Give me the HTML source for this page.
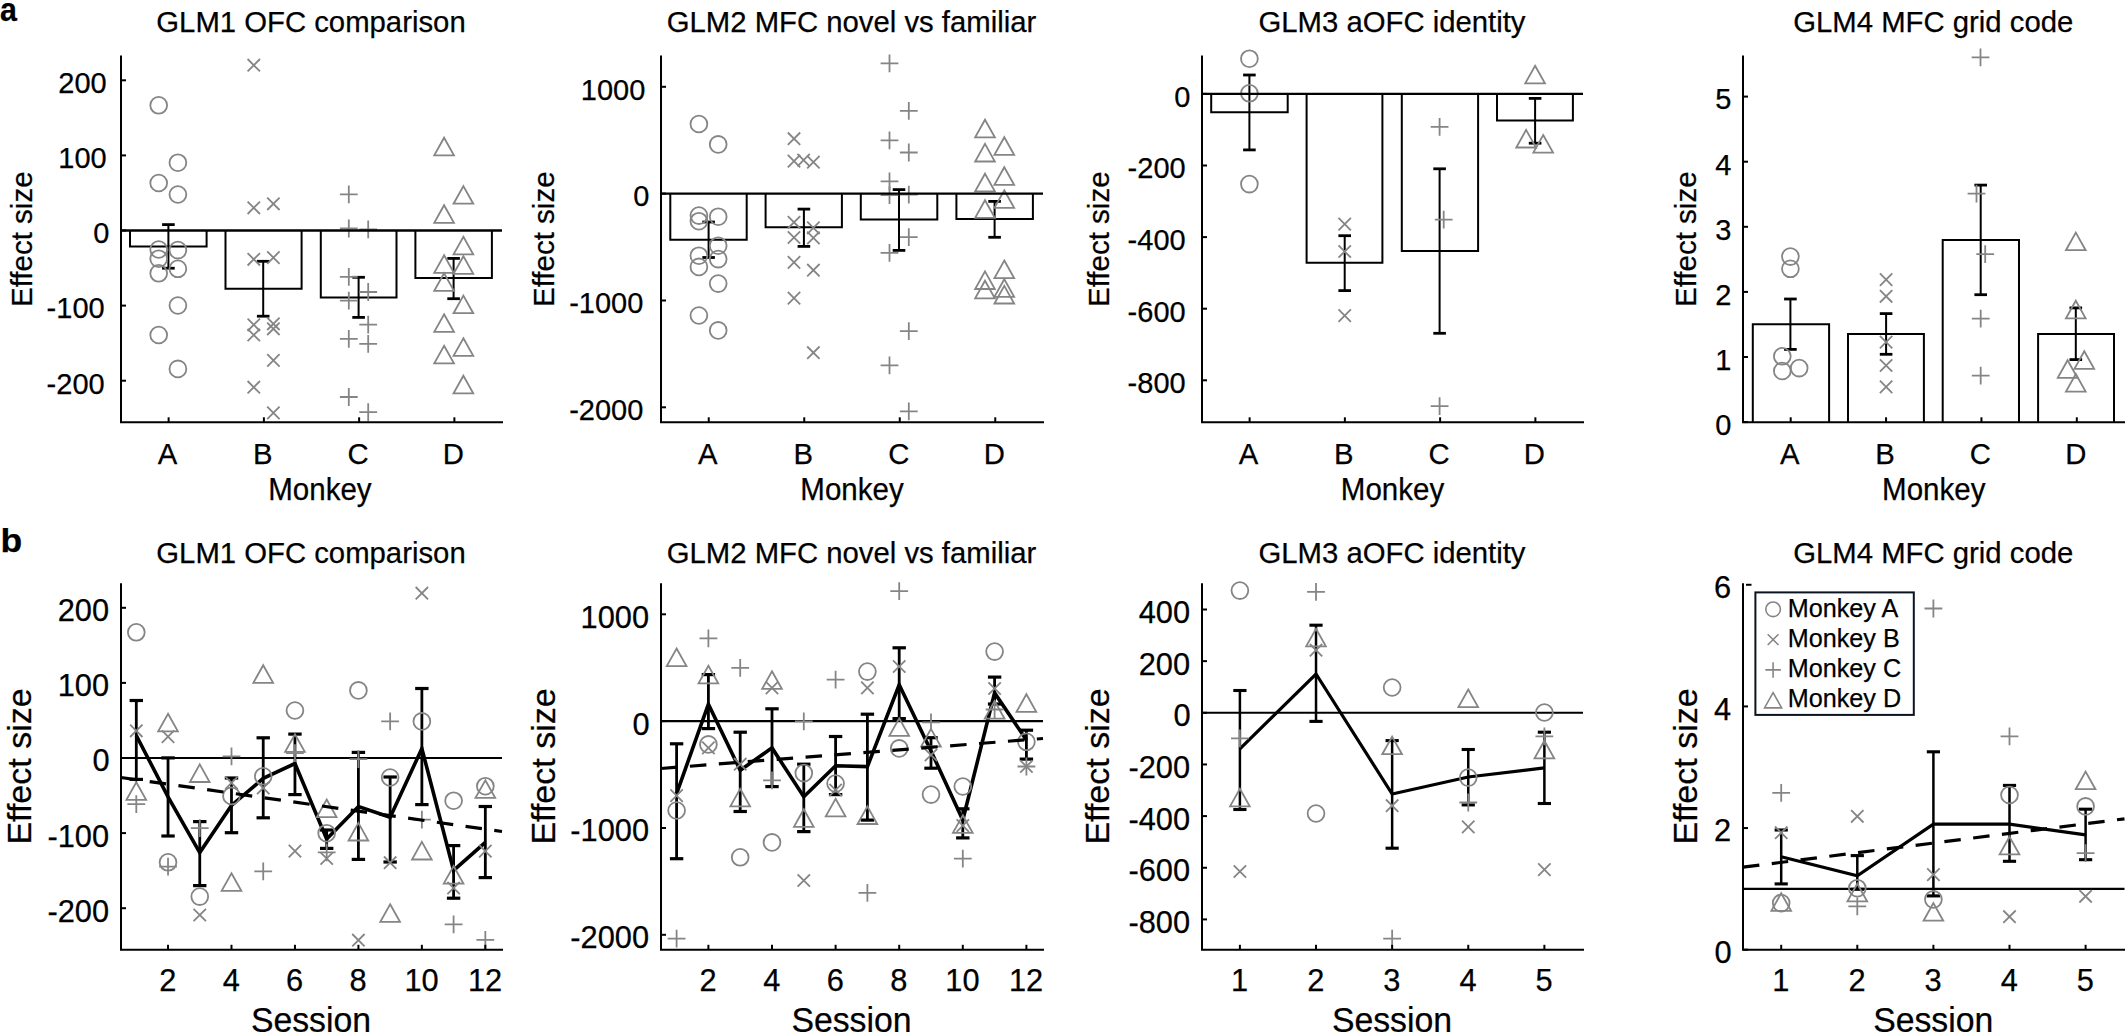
<!DOCTYPE html>
<html><head><meta charset="utf-8"><title>Figure</title><style>html,body{margin:0;padding:0;background:#fff;}svg text{font-family:'Liberation Sans', Arial, Helvetica, sans-serif;}</style></head><body>
<svg width="2125" height="1032" viewBox="0 0 2125 1032" style="display:block;font-family:'Liberation Sans', Arial, Helvetica, sans-serif">
<rect width="2125" height="1032" fill="#fff"/>
<text x="0.1" y="20.5" font-size="33" font-weight="bold" fill="#000" stroke="#000" stroke-width="0.25" textLength="16.9" lengthAdjust="spacingAndGlyphs">a</text>
<text x="0.5" y="551.8" font-size="32.5" font-weight="bold" fill="#000" stroke="#000" stroke-width="0.25" textLength="21.7" lengthAdjust="spacingAndGlyphs">b</text>
<path d="M130 230.5L130 246.4L206.6 246.4L206.6 230.5" stroke="#000" stroke-width="2" fill="#fff"/>
<path d="M225.5 230.5L225.5 288.8L301.6 288.8L301.6 230.5" stroke="#000" stroke-width="2" fill="#fff"/>
<path d="M320.8 230.5L320.8 297.5L396.5 297.5L396.5 230.5" stroke="#000" stroke-width="2" fill="#fff"/>
<path d="M415.4 230.5L415.4 277.9L491.9 277.9L491.9 230.5" stroke="#000" stroke-width="2" fill="#fff"/>
<line x1="168.4" y1="224.6" x2="168.4" y2="268.2" stroke="#000" stroke-width="2.0" />
<line x1="162.1" y1="224.6" x2="174.7" y2="224.6" stroke="#000" stroke-width="2.8" />
<line x1="162.1" y1="268.2" x2="174.7" y2="268.2" stroke="#000" stroke-width="2.8" />
<line x1="263.2" y1="261.3" x2="263.2" y2="316.2" stroke="#000" stroke-width="2.0" />
<line x1="256.9" y1="261.3" x2="269.5" y2="261.3" stroke="#000" stroke-width="2.8" />
<line x1="256.9" y1="316.2" x2="269.5" y2="316.2" stroke="#000" stroke-width="2.8" />
<line x1="358.6" y1="277.3" x2="358.6" y2="317.4" stroke="#000" stroke-width="2.0" />
<line x1="352.3" y1="277.3" x2="364.9" y2="277.3" stroke="#000" stroke-width="2.8" />
<line x1="352.3" y1="317.4" x2="364.9" y2="317.4" stroke="#000" stroke-width="2.8" />
<line x1="453.6" y1="258.4" x2="453.6" y2="298.7" stroke="#000" stroke-width="2.0" />
<line x1="447.3" y1="258.4" x2="459.9" y2="258.4" stroke="#000" stroke-width="2.8" />
<line x1="447.3" y1="298.7" x2="459.9" y2="298.7" stroke="#000" stroke-width="2.8" />
<circle cx="158.7" cy="105.3" r="8.4" fill="none" stroke="#858585" stroke-width="1.8"/>
<circle cx="158.7" cy="183" r="8.4" fill="none" stroke="#858585" stroke-width="1.8"/>
<circle cx="158.7" cy="249.5" r="8.4" fill="none" stroke="#858585" stroke-width="1.8"/>
<circle cx="158.7" cy="258.7" r="8.4" fill="none" stroke="#858585" stroke-width="1.8"/>
<circle cx="158.7" cy="273.3" r="8.4" fill="none" stroke="#858585" stroke-width="1.8"/>
<circle cx="158.7" cy="335" r="8.4" fill="none" stroke="#858585" stroke-width="1.8"/>
<circle cx="177.9" cy="162.7" r="8.4" fill="none" stroke="#858585" stroke-width="1.8"/>
<circle cx="177.9" cy="194.5" r="8.4" fill="none" stroke="#858585" stroke-width="1.8"/>
<circle cx="177.9" cy="250.1" r="8.4" fill="none" stroke="#858585" stroke-width="1.8"/>
<circle cx="177.9" cy="268.8" r="8.4" fill="none" stroke="#858585" stroke-width="1.8"/>
<circle cx="177.9" cy="305.5" r="8.4" fill="none" stroke="#858585" stroke-width="1.8"/>
<circle cx="177.9" cy="368.9" r="8.4" fill="none" stroke="#858585" stroke-width="1.8"/>
<path d="M247.6 59L260 71.4M247.6 71.4L260 59" stroke="#858585" stroke-width="1.8" fill="none"/>
<path d="M247.6 201.6L260 214M247.6 214L260 201.6" stroke="#858585" stroke-width="1.8" fill="none"/>
<path d="M247.6 253.1L260 265.5M247.6 265.5L260 253.1" stroke="#858585" stroke-width="1.8" fill="none"/>
<path d="M247.6 318.6L260 331M247.6 331L260 318.6" stroke="#858585" stroke-width="1.8" fill="none"/>
<path d="M247.6 328.8L260 341.2M247.6 341.2L260 328.8" stroke="#858585" stroke-width="1.8" fill="none"/>
<path d="M247.6 381L260 393.4M247.6 393.4L260 381" stroke="#858585" stroke-width="1.8" fill="none"/>
<path d="M267.2 197.6L279.6 210M267.2 210L279.6 197.6" stroke="#858585" stroke-width="1.8" fill="none"/>
<path d="M267.2 251.4L279.6 263.8M267.2 263.8L279.6 251.4" stroke="#858585" stroke-width="1.8" fill="none"/>
<path d="M267.2 317.6L279.6 330M267.2 330L279.6 317.6" stroke="#858585" stroke-width="1.8" fill="none"/>
<path d="M267.2 322.6L279.6 335M267.2 335L279.6 322.6" stroke="#858585" stroke-width="1.8" fill="none"/>
<path d="M267.2 354.2L279.6 366.6M267.2 366.6L279.6 354.2" stroke="#858585" stroke-width="1.8" fill="none"/>
<path d="M267.2 406.7L279.6 419.1M267.2 419.1L279.6 406.7" stroke="#858585" stroke-width="1.8" fill="none"/>
<path d="M339.9 194.3L357.7 194.3M348.8 185.4L348.8 203.2" stroke="#858585" stroke-width="1.8" fill="none"/>
<path d="M339.9 228.5L357.7 228.5M348.8 219.6L348.8 237.4" stroke="#858585" stroke-width="1.8" fill="none"/>
<path d="M339.9 276.8L357.7 276.8M348.8 267.9L348.8 285.7" stroke="#858585" stroke-width="1.8" fill="none"/>
<path d="M339.9 300.7L357.7 300.7M348.8 291.8L348.8 309.6" stroke="#858585" stroke-width="1.8" fill="none"/>
<path d="M339.9 338.8L357.7 338.8M348.8 329.9L348.8 347.7" stroke="#858585" stroke-width="1.8" fill="none"/>
<path d="M339.9 397L357.7 397M348.8 388.1L348.8 405.9" stroke="#858585" stroke-width="1.8" fill="none"/>
<path d="M359.3 229.3L377.1 229.3M368.2 220.4L368.2 238.2" stroke="#858585" stroke-width="1.8" fill="none"/>
<path d="M359.3 292L377.1 292M368.2 283.1L368.2 300.9" stroke="#858585" stroke-width="1.8" fill="none"/>
<path d="M359.3 324.7L377.1 324.7M368.2 315.8L368.2 333.6" stroke="#858585" stroke-width="1.8" fill="none"/>
<path d="M359.3 343.8L377.1 343.8M368.2 334.9L368.2 352.7" stroke="#858585" stroke-width="1.8" fill="none"/>
<path d="M359.3 412.2L377.1 412.2M368.2 403.3L368.2 421.1" stroke="#858585" stroke-width="1.8" fill="none"/>
<path d="M444.1 137.7L453.95 155.3L434.25 155.3Z" stroke="#858585" stroke-width="1.8" fill="none" stroke-linejoin="miter"/>
<path d="M444.1 205.2L453.95 222.8L434.25 222.8Z" stroke="#858585" stroke-width="1.8" fill="none" stroke-linejoin="miter"/>
<path d="M444.1 255.2L453.95 272.8L434.25 272.8Z" stroke="#858585" stroke-width="1.8" fill="none" stroke-linejoin="miter"/>
<path d="M444.1 273.2L453.95 290.8L434.25 290.8Z" stroke="#858585" stroke-width="1.8" fill="none" stroke-linejoin="miter"/>
<path d="M444.1 314.3L453.95 331.9L434.25 331.9Z" stroke="#858585" stroke-width="1.8" fill="none" stroke-linejoin="miter"/>
<path d="M444.1 345.8L453.95 363.4L434.25 363.4Z" stroke="#858585" stroke-width="1.8" fill="none" stroke-linejoin="miter"/>
<path d="M463.4 186.1L473.25 203.7L453.55 203.7Z" stroke="#858585" stroke-width="1.8" fill="none" stroke-linejoin="miter"/>
<path d="M463.4 236.8L473.25 254.4L453.55 254.4Z" stroke="#858585" stroke-width="1.8" fill="none" stroke-linejoin="miter"/>
<path d="M463.4 256.2L473.25 273.8L453.55 273.8Z" stroke="#858585" stroke-width="1.8" fill="none" stroke-linejoin="miter"/>
<path d="M463.4 295.6L473.25 313.2L453.55 313.2Z" stroke="#858585" stroke-width="1.8" fill="none" stroke-linejoin="miter"/>
<path d="M463.4 338.3L473.25 355.9L453.55 355.9Z" stroke="#858585" stroke-width="1.8" fill="none" stroke-linejoin="miter"/>
<path d="M463.4 375.7L473.25 393.3L453.55 393.3Z" stroke="#858585" stroke-width="1.8" fill="none" stroke-linejoin="miter"/>
<line x1="121" y1="230.5" x2="502" y2="230.5" stroke="#000" stroke-width="2.3" />
<path d="M121 56.5L121 422.3L502 422.3" stroke="#000" stroke-width="2.0" fill="none" stroke-linecap="square"/>
<line x1="121" y1="80.3" x2="126" y2="80.3" stroke="#000" stroke-width="2.0" />
<text x="106.67" y="93.1" font-size="29.35" text-anchor="end" font-weight="normal" fill="#000" stroke="#000" stroke-width="0.25" textLength="48.39" lengthAdjust="spacingAndGlyphs" >200</text>
<line x1="121" y1="155.4" x2="126" y2="155.4" stroke="#000" stroke-width="2.0" />
<text x="106.67" y="168.2" font-size="29.35" text-anchor="end" font-weight="normal" fill="#000" stroke="#000" stroke-width="0.25" textLength="48.39" lengthAdjust="spacingAndGlyphs" >100</text>
<line x1="121" y1="230.5" x2="126" y2="230.5" stroke="#000" stroke-width="2.0" />
<text x="109.38" y="243.3" font-size="29.35" text-anchor="end" font-weight="normal" fill="#000" stroke="#000" stroke-width="0.25" textLength="16.13" lengthAdjust="spacingAndGlyphs" >0</text>
<line x1="121" y1="305.6" x2="126" y2="305.6" stroke="#000" stroke-width="2.0" />
<text x="104.66" y="318.4" font-size="29.35" text-anchor="end" font-weight="normal" fill="#000" stroke="#000" stroke-width="0.25" textLength="58.05" lengthAdjust="spacingAndGlyphs" >-100</text>
<line x1="121" y1="380.7" x2="126" y2="380.7" stroke="#000" stroke-width="2.0" />
<text x="104.66" y="393.5" font-size="29.35" text-anchor="end" font-weight="normal" fill="#000" stroke="#000" stroke-width="0.25" textLength="58.05" lengthAdjust="spacingAndGlyphs" >-200</text>
<line x1="168.62" y1="422.3" x2="168.62" y2="417.3" stroke="#000" stroke-width="2.0" />
<text x="167.62" y="463.9" font-size="29.89" text-anchor="middle" font-weight="normal" fill="#000" stroke="#000" stroke-width="0.25" textLength="19.54" lengthAdjust="spacingAndGlyphs" >A</text>
<line x1="263.88" y1="422.3" x2="263.88" y2="417.3" stroke="#000" stroke-width="2.0" />
<text x="262.88" y="463.9" font-size="29.89" text-anchor="middle" font-weight="normal" fill="#000" stroke="#000" stroke-width="0.25" textLength="19.54" lengthAdjust="spacingAndGlyphs" >B</text>
<line x1="359.12" y1="422.3" x2="359.12" y2="417.3" stroke="#000" stroke-width="2.0" />
<text x="358.12" y="463.9" font-size="29.89" text-anchor="middle" font-weight="normal" fill="#000" stroke="#000" stroke-width="0.25" textLength="21.16" lengthAdjust="spacingAndGlyphs" >C</text>
<line x1="454.38" y1="422.3" x2="454.38" y2="417.3" stroke="#000" stroke-width="2.0" />
<text x="453.38" y="463.9" font-size="29.89" text-anchor="middle" font-weight="normal" fill="#000" stroke="#000" stroke-width="0.25" textLength="21.16" lengthAdjust="spacingAndGlyphs" >D</text>
<text x="32" y="239.2" font-size="29.35" text-anchor="middle" font-weight="normal" fill="#000" stroke="#000" stroke-width="0.25" textLength="135.55" lengthAdjust="spacingAndGlyphs" transform="rotate(-90 32 239.2)">Effect size</text>
<text x="311" y="31.8" font-size="30.33" text-anchor="middle" font-weight="normal" fill="#000" stroke="#000" stroke-width="0.25" textLength="309.37" lengthAdjust="spacingAndGlyphs" >GLM1 OFC comparison</text>
<text x="319.9" y="499.8" font-size="30.53" text-anchor="middle" font-weight="normal" fill="#000" stroke="#000" stroke-width="0.25" textLength="103.3" lengthAdjust="spacingAndGlyphs" >Monkey</text>
<path d="M670.3 193.6L670.3 239.8L746.7 239.8L746.7 193.6" stroke="#000" stroke-width="2" fill="#fff"/>
<path d="M765.6 193.6L765.6 227.3L841.9 227.3L841.9 193.6" stroke="#000" stroke-width="2" fill="#fff"/>
<path d="M860.8 193.6L860.8 219.6L937.3 219.6L937.3 193.6" stroke="#000" stroke-width="2" fill="#fff"/>
<path d="M956.4 193.6L956.4 219.1L1032.9 219.1L1032.9 193.6" stroke="#000" stroke-width="2" fill="#fff"/>
<line x1="708.6" y1="222" x2="708.6" y2="257.5" stroke="#000" stroke-width="2.0" />
<line x1="702.3" y1="222" x2="714.9" y2="222" stroke="#000" stroke-width="2.8" />
<line x1="702.3" y1="257.5" x2="714.9" y2="257.5" stroke="#000" stroke-width="2.8" />
<line x1="803.9" y1="209.1" x2="803.9" y2="246.4" stroke="#000" stroke-width="2.0" />
<line x1="797.6" y1="209.1" x2="810.2" y2="209.1" stroke="#000" stroke-width="2.8" />
<line x1="797.6" y1="246.4" x2="810.2" y2="246.4" stroke="#000" stroke-width="2.8" />
<line x1="899" y1="189.6" x2="899" y2="250.4" stroke="#000" stroke-width="2.0" />
<line x1="892.7" y1="189.6" x2="905.3" y2="189.6" stroke="#000" stroke-width="2.8" />
<line x1="892.7" y1="250.4" x2="905.3" y2="250.4" stroke="#000" stroke-width="2.8" />
<line x1="994.6" y1="201.4" x2="994.6" y2="237.3" stroke="#000" stroke-width="2.0" />
<line x1="988.3" y1="201.4" x2="1000.9" y2="201.4" stroke="#000" stroke-width="2.8" />
<line x1="988.3" y1="237.3" x2="1000.9" y2="237.3" stroke="#000" stroke-width="2.8" />
<circle cx="698.9" cy="124" r="8.4" fill="none" stroke="#858585" stroke-width="1.8"/>
<circle cx="698.9" cy="215.6" r="8.4" fill="none" stroke="#858585" stroke-width="1.8"/>
<circle cx="698.9" cy="221.2" r="8.4" fill="none" stroke="#858585" stroke-width="1.8"/>
<circle cx="698.9" cy="255.7" r="8.4" fill="none" stroke="#858585" stroke-width="1.8"/>
<circle cx="698.9" cy="266.9" r="8.4" fill="none" stroke="#858585" stroke-width="1.8"/>
<circle cx="698.9" cy="315.5" r="8.4" fill="none" stroke="#858585" stroke-width="1.8"/>
<circle cx="718.2" cy="144.4" r="8.4" fill="none" stroke="#858585" stroke-width="1.8"/>
<circle cx="718.2" cy="216.7" r="8.4" fill="none" stroke="#858585" stroke-width="1.8"/>
<circle cx="718.2" cy="245.7" r="8.4" fill="none" stroke="#858585" stroke-width="1.8"/>
<circle cx="718.2" cy="259.1" r="8.4" fill="none" stroke="#858585" stroke-width="1.8"/>
<circle cx="718.2" cy="283.6" r="8.4" fill="none" stroke="#858585" stroke-width="1.8"/>
<circle cx="718.2" cy="330.4" r="8.4" fill="none" stroke="#858585" stroke-width="1.8"/>
<path d="M787.8 132.5L800.2 144.9M787.8 144.9L800.2 132.5" stroke="#858585" stroke-width="1.8" fill="none"/>
<path d="M787.8 154.9L800.2 167.3M787.8 167.3L800.2 154.9" stroke="#858585" stroke-width="1.8" fill="none"/>
<path d="M787.8 216.1L800.2 228.5M787.8 228.5L800.2 216.1" stroke="#858585" stroke-width="1.8" fill="none"/>
<path d="M787.8 231.3L800.2 243.7M787.8 243.7L800.2 231.3" stroke="#858585" stroke-width="1.8" fill="none"/>
<path d="M787.8 256.2L800.2 268.6M787.8 268.6L800.2 256.2" stroke="#858585" stroke-width="1.8" fill="none"/>
<path d="M787.8 291.9L800.2 304.3M787.8 304.3L800.2 291.9" stroke="#858585" stroke-width="1.8" fill="none"/>
<path d="M807.2 155.9L819.6 168.3M807.2 168.3L819.6 155.9" stroke="#858585" stroke-width="1.8" fill="none"/>
<path d="M807.2 221.7L819.6 234.1M807.2 234.1L819.6 221.7" stroke="#858585" stroke-width="1.8" fill="none"/>
<path d="M807.2 231.7L819.6 244.1M807.2 244.1L819.6 231.7" stroke="#858585" stroke-width="1.8" fill="none"/>
<path d="M807.2 264L819.6 276.4M807.2 276.4L819.6 264" stroke="#858585" stroke-width="1.8" fill="none"/>
<path d="M807.2 346.5L819.6 358.9M807.2 358.9L819.6 346.5" stroke="#858585" stroke-width="1.8" fill="none"/>
<path d="M797.4 153.9L809.8 166.3M797.4 166.3L809.8 153.9" stroke="#858585" stroke-width="1.8" fill="none"/>
<path d="M880.6 63.4L898.4 63.4M889.5 54.5L889.5 72.3" stroke="#858585" stroke-width="1.8" fill="none"/>
<path d="M880.6 140.3L898.4 140.3M889.5 131.4L889.5 149.2" stroke="#858585" stroke-width="1.8" fill="none"/>
<path d="M880.6 181.4L898.4 181.4M889.5 172.5L889.5 190.3" stroke="#858585" stroke-width="1.8" fill="none"/>
<path d="M880.6 195.1L898.4 195.1M889.5 186.2L889.5 204" stroke="#858585" stroke-width="1.8" fill="none"/>
<path d="M880.6 252.8L898.4 252.8M889.5 243.9L889.5 261.7" stroke="#858585" stroke-width="1.8" fill="none"/>
<path d="M880.6 365.4L898.4 365.4M889.5 356.5L889.5 374.3" stroke="#858585" stroke-width="1.8" fill="none"/>
<path d="M899.9 110.8L917.7 110.8M908.8 101.9L908.8 119.7" stroke="#858585" stroke-width="1.8" fill="none"/>
<path d="M899.9 152.5L917.7 152.5M908.8 143.6L908.8 161.4" stroke="#858585" stroke-width="1.8" fill="none"/>
<path d="M899.9 194.7L917.7 194.7M908.8 185.8L908.8 203.6" stroke="#858585" stroke-width="1.8" fill="none"/>
<path d="M899.9 237.2L917.7 237.2M908.8 228.3L908.8 246.1" stroke="#858585" stroke-width="1.8" fill="none"/>
<path d="M899.9 331.1L917.7 331.1M908.8 322.2L908.8 340" stroke="#858585" stroke-width="1.8" fill="none"/>
<path d="M899.9 411.3L917.7 411.3M908.8 402.4L908.8 420.2" stroke="#858585" stroke-width="1.8" fill="none"/>
<path d="M985 119.7L994.85 137.3L975.15 137.3Z" stroke="#858585" stroke-width="1.8" fill="none" stroke-linejoin="miter"/>
<path d="M985 143.9L994.85 161.5L975.15 161.5Z" stroke="#858585" stroke-width="1.8" fill="none" stroke-linejoin="miter"/>
<path d="M985 173.7L994.85 191.3L975.15 191.3Z" stroke="#858585" stroke-width="1.8" fill="none" stroke-linejoin="miter"/>
<path d="M985 200.2L994.85 217.8L975.15 217.8Z" stroke="#858585" stroke-width="1.8" fill="none" stroke-linejoin="miter"/>
<path d="M985 271.4L994.85 289L975.15 289Z" stroke="#858585" stroke-width="1.8" fill="none" stroke-linejoin="miter"/>
<path d="M985 280.7L994.85 298.3L975.15 298.3Z" stroke="#858585" stroke-width="1.8" fill="none" stroke-linejoin="miter"/>
<path d="M1004.3 137.2L1014.15 154.8L994.45 154.8Z" stroke="#858585" stroke-width="1.8" fill="none" stroke-linejoin="miter"/>
<path d="M1004.3 167.2L1014.15 184.8L994.45 184.8Z" stroke="#858585" stroke-width="1.8" fill="none" stroke-linejoin="miter"/>
<path d="M1004.3 190.3L1014.15 207.9L994.45 207.9Z" stroke="#858585" stroke-width="1.8" fill="none" stroke-linejoin="miter"/>
<path d="M1004.3 260.5L1014.15 278.1L994.45 278.1Z" stroke="#858585" stroke-width="1.8" fill="none" stroke-linejoin="miter"/>
<path d="M1004.3 279.2L1014.15 296.8L994.45 296.8Z" stroke="#858585" stroke-width="1.8" fill="none" stroke-linejoin="miter"/>
<path d="M1004.3 285.9L1014.15 303.5L994.45 303.5Z" stroke="#858585" stroke-width="1.8" fill="none" stroke-linejoin="miter"/>
<line x1="661" y1="193.6" x2="1043" y2="193.6" stroke="#000" stroke-width="2.3" />
<path d="M661 56.5L661 422.3L1043 422.3" stroke="#000" stroke-width="2.0" fill="none" stroke-linecap="square"/>
<line x1="661" y1="86.8" x2="666" y2="86.8" stroke="#000" stroke-width="2.0" />
<text x="645.31" y="99.6" font-size="29.35" text-anchor="end" font-weight="normal" fill="#000" stroke="#000" stroke-width="0.25" textLength="64.52" lengthAdjust="spacingAndGlyphs" >1000</text>
<line x1="661" y1="193.6" x2="666" y2="193.6" stroke="#000" stroke-width="2.0" />
<text x="649.38" y="206.4" font-size="29.35" text-anchor="end" font-weight="normal" fill="#000" stroke="#000" stroke-width="0.25" textLength="16.13" lengthAdjust="spacingAndGlyphs" >0</text>
<line x1="661" y1="300.5" x2="666" y2="300.5" stroke="#000" stroke-width="2.0" />
<text x="643.3" y="313.3" font-size="29.35" text-anchor="end" font-weight="normal" fill="#000" stroke="#000" stroke-width="0.25" textLength="74.17" lengthAdjust="spacingAndGlyphs" >-1000</text>
<line x1="661" y1="407.3" x2="666" y2="407.3" stroke="#000" stroke-width="2.0" />
<text x="643.3" y="420.1" font-size="29.35" text-anchor="end" font-weight="normal" fill="#000" stroke="#000" stroke-width="0.25" textLength="74.17" lengthAdjust="spacingAndGlyphs" >-2000</text>
<line x1="708.75" y1="422.3" x2="708.75" y2="417.3" stroke="#000" stroke-width="2.0" />
<text x="707.75" y="463.9" font-size="29.89" text-anchor="middle" font-weight="normal" fill="#000" stroke="#000" stroke-width="0.25" textLength="19.54" lengthAdjust="spacingAndGlyphs" >A</text>
<line x1="804.25" y1="422.3" x2="804.25" y2="417.3" stroke="#000" stroke-width="2.0" />
<text x="803.25" y="463.9" font-size="29.89" text-anchor="middle" font-weight="normal" fill="#000" stroke="#000" stroke-width="0.25" textLength="19.54" lengthAdjust="spacingAndGlyphs" >B</text>
<line x1="899.75" y1="422.3" x2="899.75" y2="417.3" stroke="#000" stroke-width="2.0" />
<text x="898.75" y="463.9" font-size="29.89" text-anchor="middle" font-weight="normal" fill="#000" stroke="#000" stroke-width="0.25" textLength="21.16" lengthAdjust="spacingAndGlyphs" >C</text>
<line x1="995.25" y1="422.3" x2="995.25" y2="417.3" stroke="#000" stroke-width="2.0" />
<text x="994.25" y="463.9" font-size="29.89" text-anchor="middle" font-weight="normal" fill="#000" stroke="#000" stroke-width="0.25" textLength="21.16" lengthAdjust="spacingAndGlyphs" >D</text>
<text x="554.2" y="239.2" font-size="29.35" text-anchor="middle" font-weight="normal" fill="#000" stroke="#000" stroke-width="0.25" textLength="135.55" lengthAdjust="spacingAndGlyphs" transform="rotate(-90 554.2 239.2)">Effect size</text>
<text x="851.5" y="31.8" font-size="30.33" text-anchor="middle" font-weight="normal" fill="#000" stroke="#000" stroke-width="0.25" textLength="369.59" lengthAdjust="spacingAndGlyphs" >GLM2 MFC novel vs familiar</text>
<text x="852" y="499.8" font-size="30.53" text-anchor="middle" font-weight="normal" fill="#000" stroke="#000" stroke-width="0.25" textLength="103.3" lengthAdjust="spacingAndGlyphs" >Monkey</text>
<path d="M1211.2 93.9L1211.2 112.2L1287.7 112.2L1287.7 93.9" stroke="#000" stroke-width="2" fill="#fff"/>
<path d="M1306.6 93.9L1306.6 262.7L1382.4 262.7L1382.4 93.9" stroke="#000" stroke-width="2" fill="#fff"/>
<path d="M1401.8 93.9L1401.8 251.1L1478.1 251.1L1478.1 93.9" stroke="#000" stroke-width="2" fill="#fff"/>
<path d="M1497 93.9L1497 120.4L1572.9 120.4L1572.9 93.9" stroke="#000" stroke-width="2" fill="#fff"/>
<line x1="1249.4" y1="75" x2="1249.4" y2="149.9" stroke="#000" stroke-width="2.0" />
<line x1="1243.1" y1="75" x2="1255.7" y2="75" stroke="#000" stroke-width="2.8" />
<line x1="1243.1" y1="149.9" x2="1255.7" y2="149.9" stroke="#000" stroke-width="2.8" />
<line x1="1344.7" y1="235.7" x2="1344.7" y2="290.6" stroke="#000" stroke-width="2.0" />
<line x1="1338.4" y1="235.7" x2="1351" y2="235.7" stroke="#000" stroke-width="2.8" />
<line x1="1338.4" y1="290.6" x2="1351" y2="290.6" stroke="#000" stroke-width="2.8" />
<line x1="1439.6" y1="168.8" x2="1439.6" y2="333.3" stroke="#000" stroke-width="2.0" />
<line x1="1433.3" y1="168.8" x2="1445.9" y2="168.8" stroke="#000" stroke-width="2.8" />
<line x1="1433.3" y1="333.3" x2="1445.9" y2="333.3" stroke="#000" stroke-width="2.8" />
<line x1="1535.1" y1="98.4" x2="1535.1" y2="143.2" stroke="#000" stroke-width="2.0" />
<line x1="1528.8" y1="98.4" x2="1541.4" y2="98.4" stroke="#000" stroke-width="2.8" />
<line x1="1528.8" y1="143.2" x2="1541.4" y2="143.2" stroke="#000" stroke-width="2.8" />
<circle cx="1249.4" cy="58.7" r="8.4" fill="none" stroke="#858585" stroke-width="1.8"/>
<circle cx="1249.4" cy="93.3" r="8.4" fill="none" stroke="#858585" stroke-width="1.8"/>
<circle cx="1249.4" cy="184.1" r="8.4" fill="none" stroke="#858585" stroke-width="1.8"/>
<path d="M1338.5 217.9L1350.9 230.3M1338.5 230.3L1350.9 217.9" stroke="#858585" stroke-width="1.8" fill="none"/>
<path d="M1338.5 245.3L1350.9 257.7M1338.5 257.7L1350.9 245.3" stroke="#858585" stroke-width="1.8" fill="none"/>
<path d="M1338.5 309.4L1350.9 321.8M1338.5 321.8L1350.9 309.4" stroke="#858585" stroke-width="1.8" fill="none"/>
<path d="M1430.7 126.9L1448.5 126.9M1439.6 118L1439.6 135.8" stroke="#858585" stroke-width="1.8" fill="none"/>
<path d="M1434.8 219.7L1452.6 219.7M1443.7 210.8L1443.7 228.6" stroke="#858585" stroke-width="1.8" fill="none"/>
<path d="M1430.7 406.2L1448.5 406.2M1439.6 397.3L1439.6 415.1" stroke="#858585" stroke-width="1.8" fill="none"/>
<path d="M1535.1 65.8L1544.95 83.4L1525.25 83.4Z" stroke="#858585" stroke-width="1.8" fill="none" stroke-linejoin="miter"/>
<path d="M1526.1 129.9L1535.95 147.5L1516.25 147.5Z" stroke="#858585" stroke-width="1.8" fill="none" stroke-linejoin="miter"/>
<path d="M1543.2 135L1553.05 152.6L1533.35 152.6Z" stroke="#858585" stroke-width="1.8" fill="none" stroke-linejoin="miter"/>
<line x1="1202" y1="93.9" x2="1583" y2="93.9" stroke="#000" stroke-width="2.3" />
<path d="M1202 56.5L1202 422.3L1583 422.3" stroke="#000" stroke-width="2.0" fill="none" stroke-linecap="square"/>
<line x1="1202" y1="93.9" x2="1207" y2="93.9" stroke="#000" stroke-width="2.0" />
<text x="1190.38" y="106.7" font-size="29.35" text-anchor="end" font-weight="normal" fill="#000" stroke="#000" stroke-width="0.25" textLength="16.13" lengthAdjust="spacingAndGlyphs" >0</text>
<line x1="1202" y1="165.5" x2="1207" y2="165.5" stroke="#000" stroke-width="2.0" />
<text x="1185.66" y="178.3" font-size="29.35" text-anchor="end" font-weight="normal" fill="#000" stroke="#000" stroke-width="0.25" textLength="58.05" lengthAdjust="spacingAndGlyphs" >-200</text>
<line x1="1202" y1="237.1" x2="1207" y2="237.1" stroke="#000" stroke-width="2.0" />
<text x="1185.66" y="249.9" font-size="29.35" text-anchor="end" font-weight="normal" fill="#000" stroke="#000" stroke-width="0.25" textLength="58.05" lengthAdjust="spacingAndGlyphs" >-400</text>
<line x1="1202" y1="308.7" x2="1207" y2="308.7" stroke="#000" stroke-width="2.0" />
<text x="1185.66" y="321.5" font-size="29.35" text-anchor="end" font-weight="normal" fill="#000" stroke="#000" stroke-width="0.25" textLength="58.05" lengthAdjust="spacingAndGlyphs" >-600</text>
<line x1="1202" y1="380.3" x2="1207" y2="380.3" stroke="#000" stroke-width="2.0" />
<text x="1185.66" y="393.1" font-size="29.35" text-anchor="end" font-weight="normal" fill="#000" stroke="#000" stroke-width="0.25" textLength="58.05" lengthAdjust="spacingAndGlyphs" >-800</text>
<line x1="1249.62" y1="422.3" x2="1249.62" y2="417.3" stroke="#000" stroke-width="2.0" />
<text x="1248.62" y="463.9" font-size="29.89" text-anchor="middle" font-weight="normal" fill="#000" stroke="#000" stroke-width="0.25" textLength="19.54" lengthAdjust="spacingAndGlyphs" >A</text>
<line x1="1344.88" y1="422.3" x2="1344.88" y2="417.3" stroke="#000" stroke-width="2.0" />
<text x="1343.88" y="463.9" font-size="29.89" text-anchor="middle" font-weight="normal" fill="#000" stroke="#000" stroke-width="0.25" textLength="19.54" lengthAdjust="spacingAndGlyphs" >B</text>
<line x1="1440.12" y1="422.3" x2="1440.12" y2="417.3" stroke="#000" stroke-width="2.0" />
<text x="1439.12" y="463.9" font-size="29.89" text-anchor="middle" font-weight="normal" fill="#000" stroke="#000" stroke-width="0.25" textLength="21.16" lengthAdjust="spacingAndGlyphs" >C</text>
<line x1="1535.38" y1="422.3" x2="1535.38" y2="417.3" stroke="#000" stroke-width="2.0" />
<text x="1534.38" y="463.9" font-size="29.89" text-anchor="middle" font-weight="normal" fill="#000" stroke="#000" stroke-width="0.25" textLength="21.16" lengthAdjust="spacingAndGlyphs" >D</text>
<text x="1108.7" y="239.2" font-size="29.35" text-anchor="middle" font-weight="normal" fill="#000" stroke="#000" stroke-width="0.25" textLength="135.55" lengthAdjust="spacingAndGlyphs" transform="rotate(-90 1108.7 239.2)">Effect size</text>
<text x="1392" y="31.8" font-size="30.33" text-anchor="middle" font-weight="normal" fill="#000" stroke="#000" stroke-width="0.25" textLength="267.05" lengthAdjust="spacingAndGlyphs" >GLM3 aOFC identity</text>
<text x="1392.5" y="499.8" font-size="30.53" text-anchor="middle" font-weight="normal" fill="#000" stroke="#000" stroke-width="0.25" textLength="103.3" lengthAdjust="spacingAndGlyphs" >Monkey</text>
<path d="M1752.8 422.3L1752.8 324.2L1829.1 324.2L1829.1 422.3" stroke="#000" stroke-width="2" fill="#fff"/>
<path d="M1848 422.3L1848 334L1923.9 334L1923.9 422.3" stroke="#000" stroke-width="2" fill="#fff"/>
<path d="M1942.7 422.3L1942.7 239.9L2019 239.9L2019 422.3" stroke="#000" stroke-width="2" fill="#fff"/>
<path d="M2038.1 422.3L2038.1 334L2114 334L2114 422.3" stroke="#000" stroke-width="2" fill="#fff"/>
<line x1="1790.4" y1="299" x2="1790.4" y2="349.4" stroke="#000" stroke-width="2.0" />
<line x1="1784.1" y1="299" x2="1796.7" y2="299" stroke="#000" stroke-width="2.8" />
<line x1="1784.1" y1="349.4" x2="1796.7" y2="349.4" stroke="#000" stroke-width="2.8" />
<line x1="1886.1" y1="313.6" x2="1886.1" y2="354.3" stroke="#000" stroke-width="2.0" />
<line x1="1879.8" y1="313.6" x2="1892.4" y2="313.6" stroke="#000" stroke-width="2.8" />
<line x1="1879.8" y1="354.3" x2="1892.4" y2="354.3" stroke="#000" stroke-width="2.8" />
<line x1="1980.7" y1="185.1" x2="1980.7" y2="294.7" stroke="#000" stroke-width="2.0" />
<line x1="1974.4" y1="185.1" x2="1987" y2="185.1" stroke="#000" stroke-width="2.8" />
<line x1="1974.4" y1="294.7" x2="1987" y2="294.7" stroke="#000" stroke-width="2.8" />
<line x1="2075.8" y1="307.9" x2="2075.8" y2="359.6" stroke="#000" stroke-width="2.0" />
<line x1="2069.5" y1="307.9" x2="2082.1" y2="307.9" stroke="#000" stroke-width="2.8" />
<line x1="2069.5" y1="359.6" x2="2082.1" y2="359.6" stroke="#000" stroke-width="2.8" />
<circle cx="1790.4" cy="256.6" r="8.4" fill="none" stroke="#858585" stroke-width="1.8"/>
<circle cx="1790.4" cy="268.8" r="8.4" fill="none" stroke="#858585" stroke-width="1.8"/>
<circle cx="1782.3" cy="356.3" r="8.4" fill="none" stroke="#858585" stroke-width="1.8"/>
<circle cx="1782.3" cy="371" r="8.4" fill="none" stroke="#858585" stroke-width="1.8"/>
<circle cx="1799.2" cy="368.1" r="8.4" fill="none" stroke="#858585" stroke-width="1.8"/>
<path d="M1879.9 273.4L1892.3 285.8M1879.9 285.8L1892.3 273.4" stroke="#858585" stroke-width="1.8" fill="none"/>
<path d="M1879.9 290.1L1892.3 302.5M1879.9 302.5L1892.3 290.1" stroke="#858585" stroke-width="1.8" fill="none"/>
<path d="M1879.9 335.9L1892.3 348.3M1879.9 348.3L1892.3 335.9" stroke="#858585" stroke-width="1.8" fill="none"/>
<path d="M1879.9 359.3L1892.3 371.7M1879.9 371.7L1892.3 359.3" stroke="#858585" stroke-width="1.8" fill="none"/>
<path d="M1879.9 380.7L1892.3 393.1M1879.9 393.1L1892.3 380.7" stroke="#858585" stroke-width="1.8" fill="none"/>
<path d="M1971.6 57.3L1989.4 57.3M1980.5 48.4L1980.5 66.2" stroke="#858585" stroke-width="1.8" fill="none"/>
<path d="M1967.6 193.6L1985.4 193.6M1976.5 184.7L1976.5 202.5" stroke="#858585" stroke-width="1.8" fill="none"/>
<path d="M1976.3 254.2L1994.1 254.2M1985.2 245.3L1985.2 263.1" stroke="#858585" stroke-width="1.8" fill="none"/>
<path d="M1971.8 318.7L1989.6 318.7M1980.7 309.8L1980.7 327.6" stroke="#858585" stroke-width="1.8" fill="none"/>
<path d="M1971.8 375.7L1989.6 375.7M1980.7 366.8L1980.7 384.6" stroke="#858585" stroke-width="1.8" fill="none"/>
<path d="M2075.8 232.6L2085.65 250.2L2065.95 250.2Z" stroke="#858585" stroke-width="1.8" fill="none" stroke-linejoin="miter"/>
<path d="M2075.8 300.7L2085.65 318.3L2065.95 318.3Z" stroke="#858585" stroke-width="1.8" fill="none" stroke-linejoin="miter"/>
<path d="M2084.3 351.2L2094.15 368.8L2074.45 368.8Z" stroke="#858585" stroke-width="1.8" fill="none" stroke-linejoin="miter"/>
<path d="M2067.6 360.2L2077.45 377.8L2057.75 377.8Z" stroke="#858585" stroke-width="1.8" fill="none" stroke-linejoin="miter"/>
<path d="M2075.8 374L2085.65 391.6L2065.95 391.6Z" stroke="#858585" stroke-width="1.8" fill="none" stroke-linejoin="miter"/>
<path d="M1743 56.5L1743 422.3L2124.5 422.3" stroke="#000" stroke-width="2.0" fill="none" stroke-linecap="square"/>
<line x1="1743" y1="422.1" x2="1748" y2="422.1" stroke="#000" stroke-width="2.0" />
<text x="1731.38" y="434.9" font-size="29.35" text-anchor="end" font-weight="normal" fill="#000" stroke="#000" stroke-width="0.25" textLength="16.13" lengthAdjust="spacingAndGlyphs" >0</text>
<line x1="1743" y1="357" x2="1748" y2="357" stroke="#000" stroke-width="2.0" />
<text x="1731.38" y="369.8" font-size="29.35" text-anchor="end" font-weight="normal" fill="#000" stroke="#000" stroke-width="0.25" textLength="16.13" lengthAdjust="spacingAndGlyphs" >1</text>
<line x1="1743" y1="291.9" x2="1748" y2="291.9" stroke="#000" stroke-width="2.0" />
<text x="1731.38" y="304.7" font-size="29.35" text-anchor="end" font-weight="normal" fill="#000" stroke="#000" stroke-width="0.25" textLength="16.13" lengthAdjust="spacingAndGlyphs" >2</text>
<line x1="1743" y1="226.8" x2="1748" y2="226.8" stroke="#000" stroke-width="2.0" />
<text x="1731.38" y="239.6" font-size="29.35" text-anchor="end" font-weight="normal" fill="#000" stroke="#000" stroke-width="0.25" textLength="16.13" lengthAdjust="spacingAndGlyphs" >3</text>
<line x1="1743" y1="161.7" x2="1748" y2="161.7" stroke="#000" stroke-width="2.0" />
<text x="1731.38" y="174.5" font-size="29.35" text-anchor="end" font-weight="normal" fill="#000" stroke="#000" stroke-width="0.25" textLength="16.13" lengthAdjust="spacingAndGlyphs" >4</text>
<line x1="1743" y1="96.6" x2="1748" y2="96.6" stroke="#000" stroke-width="2.0" />
<text x="1731.38" y="109.4" font-size="29.35" text-anchor="end" font-weight="normal" fill="#000" stroke="#000" stroke-width="0.25" textLength="16.13" lengthAdjust="spacingAndGlyphs" >5</text>
<line x1="1790.69" y1="422.3" x2="1790.69" y2="417.3" stroke="#000" stroke-width="2.0" />
<text x="1789.69" y="463.9" font-size="29.89" text-anchor="middle" font-weight="normal" fill="#000" stroke="#000" stroke-width="0.25" textLength="19.54" lengthAdjust="spacingAndGlyphs" >A</text>
<line x1="1886.06" y1="422.3" x2="1886.06" y2="417.3" stroke="#000" stroke-width="2.0" />
<text x="1885.06" y="463.9" font-size="29.89" text-anchor="middle" font-weight="normal" fill="#000" stroke="#000" stroke-width="0.25" textLength="19.54" lengthAdjust="spacingAndGlyphs" >B</text>
<line x1="1981.44" y1="422.3" x2="1981.44" y2="417.3" stroke="#000" stroke-width="2.0" />
<text x="1980.44" y="463.9" font-size="29.89" text-anchor="middle" font-weight="normal" fill="#000" stroke="#000" stroke-width="0.25" textLength="21.16" lengthAdjust="spacingAndGlyphs" >C</text>
<line x1="2076.81" y1="422.3" x2="2076.81" y2="417.3" stroke="#000" stroke-width="2.0" />
<text x="2075.81" y="463.9" font-size="29.89" text-anchor="middle" font-weight="normal" fill="#000" stroke="#000" stroke-width="0.25" textLength="21.16" lengthAdjust="spacingAndGlyphs" >D</text>
<text x="1696" y="239.2" font-size="29.35" text-anchor="middle" font-weight="normal" fill="#000" stroke="#000" stroke-width="0.25" textLength="135.55" lengthAdjust="spacingAndGlyphs" transform="rotate(-90 1696 239.2)">Effect size</text>
<text x="1933.25" y="31.8" font-size="30.33" text-anchor="middle" font-weight="normal" fill="#000" stroke="#000" stroke-width="0.25" textLength="280.07" lengthAdjust="spacingAndGlyphs" >GLM4 MFC grid code</text>
<text x="1933.75" y="499.8" font-size="30.53" text-anchor="middle" font-weight="normal" fill="#000" stroke="#000" stroke-width="0.25" textLength="103.3" lengthAdjust="spacingAndGlyphs" >Monkey</text>
<line x1="121" y1="758" x2="502" y2="758" stroke="#000" stroke-width="2.1" />
<line x1="136.3" y1="700.5" x2="136.3" y2="779.4" stroke="#000" stroke-width="2.8" />
<line x1="129.6" y1="700.5" x2="143" y2="700.5" stroke="#000" stroke-width="3.2" />
<line x1="129.6" y1="779.4" x2="143" y2="779.4" stroke="#000" stroke-width="3.2" />
<line x1="168.03" y1="757.9" x2="168.03" y2="836" stroke="#000" stroke-width="2.8" />
<line x1="161.33" y1="757.9" x2="174.73" y2="757.9" stroke="#000" stroke-width="3.2" />
<line x1="161.33" y1="836" x2="174.73" y2="836" stroke="#000" stroke-width="3.2" />
<line x1="199.76" y1="821.6" x2="199.76" y2="885.6" stroke="#000" stroke-width="2.8" />
<line x1="193.06" y1="821.6" x2="206.46" y2="821.6" stroke="#000" stroke-width="3.2" />
<line x1="193.06" y1="885.6" x2="206.46" y2="885.6" stroke="#000" stroke-width="3.2" />
<line x1="231.49" y1="778" x2="231.49" y2="832.7" stroke="#000" stroke-width="2.8" />
<line x1="224.79" y1="778" x2="238.19" y2="778" stroke="#000" stroke-width="3.2" />
<line x1="224.79" y1="832.7" x2="238.19" y2="832.7" stroke="#000" stroke-width="3.2" />
<line x1="263.22" y1="737.8" x2="263.22" y2="817.8" stroke="#000" stroke-width="2.8" />
<line x1="256.52" y1="737.8" x2="269.92" y2="737.8" stroke="#000" stroke-width="3.2" />
<line x1="256.52" y1="817.8" x2="269.92" y2="817.8" stroke="#000" stroke-width="3.2" />
<line x1="294.95" y1="734.1" x2="294.95" y2="794.6" stroke="#000" stroke-width="2.8" />
<line x1="288.25" y1="734.1" x2="301.65" y2="734.1" stroke="#000" stroke-width="3.2" />
<line x1="288.25" y1="794.6" x2="301.65" y2="794.6" stroke="#000" stroke-width="3.2" />
<line x1="326.68" y1="830" x2="326.68" y2="848.4" stroke="#000" stroke-width="2.8" />
<line x1="319.98" y1="830" x2="333.38" y2="830" stroke="#000" stroke-width="3.2" />
<line x1="319.98" y1="848.4" x2="333.38" y2="848.4" stroke="#000" stroke-width="3.2" />
<line x1="358.41" y1="752.4" x2="358.41" y2="859.4" stroke="#000" stroke-width="2.8" />
<line x1="351.71" y1="752.4" x2="365.11" y2="752.4" stroke="#000" stroke-width="3.2" />
<line x1="351.71" y1="859.4" x2="365.11" y2="859.4" stroke="#000" stroke-width="3.2" />
<line x1="390.14" y1="777" x2="390.14" y2="862" stroke="#000" stroke-width="2.8" />
<line x1="383.44" y1="777" x2="396.84" y2="777" stroke="#000" stroke-width="3.2" />
<line x1="383.44" y1="862" x2="396.84" y2="862" stroke="#000" stroke-width="3.2" />
<line x1="421.87" y1="688.5" x2="421.87" y2="804.6" stroke="#000" stroke-width="2.8" />
<line x1="415.17" y1="688.5" x2="428.57" y2="688.5" stroke="#000" stroke-width="3.2" />
<line x1="415.17" y1="804.6" x2="428.57" y2="804.6" stroke="#000" stroke-width="3.2" />
<line x1="453.6" y1="845.6" x2="453.6" y2="898.2" stroke="#000" stroke-width="2.8" />
<line x1="446.9" y1="845.6" x2="460.3" y2="845.6" stroke="#000" stroke-width="3.2" />
<line x1="446.9" y1="898.2" x2="460.3" y2="898.2" stroke="#000" stroke-width="3.2" />
<line x1="485.33" y1="806.5" x2="485.33" y2="877.6" stroke="#000" stroke-width="2.8" />
<line x1="478.63" y1="806.5" x2="492.03" y2="806.5" stroke="#000" stroke-width="3.2" />
<line x1="478.63" y1="877.6" x2="492.03" y2="877.6" stroke="#000" stroke-width="3.2" />
<polyline points="136.3,735.5 168.03,796.8 199.76,852.6 231.49,805.5 263.22,778.4 294.95,763.5 326.68,839 358.41,806.5 390.14,817.2 421.87,748.6 453.6,870.4 485.33,842.3" fill="none" stroke="#000" stroke-width="3.6" stroke-linejoin="miter"/>
<circle cx="136.3" cy="632.3" r="8.4" fill="none" stroke="#858585" stroke-width="1.8"/>
<path d="M130.1 724.6L142.5 737M130.1 737L142.5 724.6" stroke="#858585" stroke-width="1.8" fill="none"/>
<path d="M127.4 804.2L145.2 804.2M136.3 795.3L136.3 813.1" stroke="#858585" stroke-width="1.8" fill="none"/>
<path d="M136.3 782.2L146.15 799.8L126.45 799.8Z" stroke="#858585" stroke-width="1.8" fill="none" stroke-linejoin="miter"/>
<circle cx="168.03" cy="862.3" r="8.4" fill="none" stroke="#858585" stroke-width="1.8"/>
<path d="M161.83 730.4L174.23 742.8M161.83 742.8L174.23 730.4" stroke="#858585" stroke-width="1.8" fill="none"/>
<path d="M159.13 866.6L176.93 866.6M168.03 857.7L168.03 875.5" stroke="#858585" stroke-width="1.8" fill="none"/>
<path d="M168.03 713.8L177.88 731.4L158.18 731.4Z" stroke="#858585" stroke-width="1.8" fill="none" stroke-linejoin="miter"/>
<circle cx="199.76" cy="896.6" r="8.4" fill="none" stroke="#858585" stroke-width="1.8"/>
<path d="M193.56 908.8L205.96 921.2M193.56 921.2L205.96 908.8" stroke="#858585" stroke-width="1.8" fill="none"/>
<path d="M190.86 828.2L208.66 828.2M199.76 819.3L199.76 837.1" stroke="#858585" stroke-width="1.8" fill="none"/>
<path d="M199.76 764.4L209.61 782L189.91 782Z" stroke="#858585" stroke-width="1.8" fill="none" stroke-linejoin="miter"/>
<circle cx="231.49" cy="795.9" r="8.4" fill="none" stroke="#858585" stroke-width="1.8"/>
<path d="M225.29 776.7L237.69 789.1M225.29 789.1L237.69 776.7" stroke="#858585" stroke-width="1.8" fill="none"/>
<path d="M222.59 756.4L240.39 756.4M231.49 747.5L231.49 765.3" stroke="#858585" stroke-width="1.8" fill="none"/>
<path d="M231.49 873.3L241.34 890.9L221.64 890.9Z" stroke="#858585" stroke-width="1.8" fill="none" stroke-linejoin="miter"/>
<circle cx="263.22" cy="776.3" r="8.4" fill="none" stroke="#858585" stroke-width="1.8"/>
<path d="M257.02 781.8L269.42 794.2M257.02 794.2L269.42 781.8" stroke="#858585" stroke-width="1.8" fill="none"/>
<path d="M254.32 871.4L272.12 871.4M263.22 862.5L263.22 880.3" stroke="#858585" stroke-width="1.8" fill="none"/>
<path d="M263.22 665.2L273.07 682.8L253.37 682.8Z" stroke="#858585" stroke-width="1.8" fill="none" stroke-linejoin="miter"/>
<circle cx="294.95" cy="710.5" r="8.4" fill="none" stroke="#858585" stroke-width="1.8"/>
<path d="M288.75 844.9L301.15 857.3M288.75 857.3L301.15 844.9" stroke="#858585" stroke-width="1.8" fill="none"/>
<path d="M286.05 753.2L303.85 753.2M294.95 744.3L294.95 762.1" stroke="#858585" stroke-width="1.8" fill="none"/>
<path d="M294.95 734.3L304.8 751.9L285.1 751.9Z" stroke="#858585" stroke-width="1.8" fill="none" stroke-linejoin="miter"/>
<circle cx="326.68" cy="833.2" r="8.4" fill="none" stroke="#858585" stroke-width="1.8"/>
<path d="M320.48 852.3L332.88 864.7M320.48 864.7L332.88 852.3" stroke="#858585" stroke-width="1.8" fill="none"/>
<path d="M317.78 852.4L335.58 852.4M326.68 843.5L326.68 861.3" stroke="#858585" stroke-width="1.8" fill="none"/>
<path d="M326.68 799.5L336.53 817.1L316.83 817.1Z" stroke="#858585" stroke-width="1.8" fill="none" stroke-linejoin="miter"/>
<circle cx="358.41" cy="690.4" r="8.4" fill="none" stroke="#858585" stroke-width="1.8"/>
<path d="M352.21 934L364.61 946.4M352.21 946.4L364.61 934" stroke="#858585" stroke-width="1.8" fill="none"/>
<path d="M349.51 759.2L367.31 759.2M358.41 750.3L358.41 768.1" stroke="#858585" stroke-width="1.8" fill="none"/>
<path d="M358.41 822.9L368.26 840.5L348.56 840.5Z" stroke="#858585" stroke-width="1.8" fill="none" stroke-linejoin="miter"/>
<circle cx="390.14" cy="777.5" r="8.4" fill="none" stroke="#858585" stroke-width="1.8"/>
<path d="M383.94 856.5L396.34 868.9M383.94 868.9L396.34 856.5" stroke="#858585" stroke-width="1.8" fill="none"/>
<path d="M381.24 721.4L399.04 721.4M390.14 712.5L390.14 730.3" stroke="#858585" stroke-width="1.8" fill="none"/>
<path d="M390.14 904.3L399.99 921.9L380.29 921.9Z" stroke="#858585" stroke-width="1.8" fill="none" stroke-linejoin="miter"/>
<circle cx="421.87" cy="721.4" r="8.4" fill="none" stroke="#858585" stroke-width="1.8"/>
<path d="M415.67 587L428.07 599.4M415.67 599.4L428.07 587" stroke="#858585" stroke-width="1.8" fill="none"/>
<path d="M412.97 819.7L430.77 819.7M421.87 810.8L421.87 828.6" stroke="#858585" stroke-width="1.8" fill="none"/>
<path d="M421.87 841.9L431.72 859.5L412.02 859.5Z" stroke="#858585" stroke-width="1.8" fill="none" stroke-linejoin="miter"/>
<circle cx="453.6" cy="800.7" r="8.4" fill="none" stroke="#858585" stroke-width="1.8"/>
<path d="M447.4 881.8L459.8 894.2M447.4 894.2L459.8 881.8" stroke="#858585" stroke-width="1.8" fill="none"/>
<path d="M444.7 924.3L462.5 924.3M453.6 915.4L453.6 933.2" stroke="#858585" stroke-width="1.8" fill="none"/>
<path d="M453.6 866L463.45 883.6L443.75 883.6Z" stroke="#858585" stroke-width="1.8" fill="none" stroke-linejoin="miter"/>
<circle cx="485.33" cy="786.2" r="8.4" fill="none" stroke="#858585" stroke-width="1.8"/>
<path d="M479.13 844.9L491.53 857.3M479.13 857.3L491.53 844.9" stroke="#858585" stroke-width="1.8" fill="none"/>
<path d="M476.43 939.8L494.23 939.8M485.33 930.9L485.33 948.7" stroke="#858585" stroke-width="1.8" fill="none"/>
<path d="M485.33 780.3L495.18 797.9L475.48 797.9Z" stroke="#858585" stroke-width="1.8" fill="none" stroke-linejoin="miter"/>
<line x1="121" y1="777.5" x2="502" y2="831.5" stroke="#000" stroke-width="3.2" stroke-dasharray="16.5 12.5"/>
<path d="M121 584.2L121 949.8L502 949.8" stroke="#000" stroke-width="2.0" fill="none" stroke-linecap="square"/>
<line x1="121" y1="607.8" x2="126" y2="607.8" stroke="#000" stroke-width="2.0" />
<text x="109.1" y="621.2" font-size="31.17" text-anchor="end" font-weight="normal" fill="#000" stroke="#000" stroke-width="0.25" textLength="51.39" lengthAdjust="spacingAndGlyphs" >200</text>
<line x1="121" y1="682.9" x2="126" y2="682.9" stroke="#000" stroke-width="2.0" />
<text x="109.1" y="696.3" font-size="31.17" text-anchor="end" font-weight="normal" fill="#000" stroke="#000" stroke-width="0.25" textLength="51.39" lengthAdjust="spacingAndGlyphs" >100</text>
<line x1="121" y1="758" x2="126" y2="758" stroke="#000" stroke-width="2.0" />
<text x="109.7" y="771.4" font-size="31.17" text-anchor="end" font-weight="normal" fill="#000" stroke="#000" stroke-width="0.25" textLength="17.13" lengthAdjust="spacingAndGlyphs" >0</text>
<line x1="121" y1="833.1" x2="126" y2="833.1" stroke="#000" stroke-width="2.0" />
<text x="109.1" y="846.5" font-size="31.17" text-anchor="end" font-weight="normal" fill="#000" stroke="#000" stroke-width="0.25" textLength="61.65" lengthAdjust="spacingAndGlyphs" >-100</text>
<line x1="121" y1="908.2" x2="126" y2="908.2" stroke="#000" stroke-width="2.0" />
<text x="109.1" y="921.6" font-size="31.17" text-anchor="end" font-weight="normal" fill="#000" stroke="#000" stroke-width="0.25" textLength="61.65" lengthAdjust="spacingAndGlyphs" >-200</text>
<line x1="168.03" y1="949.8" x2="168.03" y2="944.8" stroke="#000" stroke-width="2.0" />
<text x="167.73" y="990.7" font-size="31.42" text-anchor="middle" font-weight="normal" fill="#000" stroke="#000" stroke-width="0.25" textLength="17.13" lengthAdjust="spacingAndGlyphs" >2</text>
<line x1="231.49" y1="949.8" x2="231.49" y2="944.8" stroke="#000" stroke-width="2.0" />
<text x="231.19" y="990.7" font-size="31.42" text-anchor="middle" font-weight="normal" fill="#000" stroke="#000" stroke-width="0.25" textLength="17.13" lengthAdjust="spacingAndGlyphs" >4</text>
<line x1="294.95" y1="949.8" x2="294.95" y2="944.8" stroke="#000" stroke-width="2.0" />
<text x="294.65" y="990.7" font-size="31.42" text-anchor="middle" font-weight="normal" fill="#000" stroke="#000" stroke-width="0.25" textLength="17.13" lengthAdjust="spacingAndGlyphs" >6</text>
<line x1="358.41" y1="949.8" x2="358.41" y2="944.8" stroke="#000" stroke-width="2.0" />
<text x="358.11" y="990.7" font-size="31.42" text-anchor="middle" font-weight="normal" fill="#000" stroke="#000" stroke-width="0.25" textLength="17.13" lengthAdjust="spacingAndGlyphs" >8</text>
<line x1="421.87" y1="949.8" x2="421.87" y2="944.8" stroke="#000" stroke-width="2.0" />
<text x="421.57" y="990.7" font-size="31.42" text-anchor="middle" font-weight="normal" fill="#000" stroke="#000" stroke-width="0.25" textLength="34.26" lengthAdjust="spacingAndGlyphs" >10</text>
<line x1="485.33" y1="949.8" x2="485.33" y2="944.8" stroke="#000" stroke-width="2.0" />
<text x="485.03" y="990.7" font-size="31.42" text-anchor="middle" font-weight="normal" fill="#000" stroke="#000" stroke-width="0.25" textLength="34.26" lengthAdjust="spacingAndGlyphs" >12</text>
<text x="31.3" y="766.5" font-size="33.83" text-anchor="middle" font-weight="normal" fill="#000" stroke="#000" stroke-width="0.25" textLength="156.22" lengthAdjust="spacingAndGlyphs" transform="rotate(-90 31.3 766.5)">Effect size</text>
<text x="311" y="562.8" font-size="30.33" text-anchor="middle" font-weight="normal" fill="#000" stroke="#000" stroke-width="0.25" textLength="309.37" lengthAdjust="spacingAndGlyphs" >GLM1 OFC comparison</text>
<text x="311" y="1032.3" font-size="34.98" text-anchor="middle" font-weight="normal" fill="#000" stroke="#000" stroke-width="0.25" textLength="120.25" lengthAdjust="spacingAndGlyphs" >Session</text>
<line x1="661" y1="721.1" x2="1043" y2="721.1" stroke="#000" stroke-width="2.1" />
<line x1="676.6" y1="743.8" x2="676.6" y2="858.7" stroke="#000" stroke-width="2.8" />
<line x1="669.9" y1="743.8" x2="683.3" y2="743.8" stroke="#000" stroke-width="3.2" />
<line x1="669.9" y1="858.7" x2="683.3" y2="858.7" stroke="#000" stroke-width="3.2" />
<line x1="708.4" y1="674.6" x2="708.4" y2="728.6" stroke="#000" stroke-width="2.8" />
<line x1="701.7" y1="674.6" x2="715.1" y2="674.6" stroke="#000" stroke-width="3.2" />
<line x1="701.7" y1="728.6" x2="715.1" y2="728.6" stroke="#000" stroke-width="3.2" />
<line x1="740.2" y1="732.2" x2="740.2" y2="811.5" stroke="#000" stroke-width="2.8" />
<line x1="733.5" y1="732.2" x2="746.9" y2="732.2" stroke="#000" stroke-width="3.2" />
<line x1="733.5" y1="811.5" x2="746.9" y2="811.5" stroke="#000" stroke-width="3.2" />
<line x1="772" y1="708.8" x2="772" y2="786.6" stroke="#000" stroke-width="2.8" />
<line x1="765.3" y1="708.8" x2="778.7" y2="708.8" stroke="#000" stroke-width="3.2" />
<line x1="765.3" y1="786.6" x2="778.7" y2="786.6" stroke="#000" stroke-width="3.2" />
<line x1="803.8" y1="764.2" x2="803.8" y2="831.6" stroke="#000" stroke-width="2.8" />
<line x1="797.1" y1="764.2" x2="810.5" y2="764.2" stroke="#000" stroke-width="3.2" />
<line x1="797.1" y1="831.6" x2="810.5" y2="831.6" stroke="#000" stroke-width="3.2" />
<line x1="835.6" y1="736.5" x2="835.6" y2="794.6" stroke="#000" stroke-width="2.8" />
<line x1="828.9" y1="736.5" x2="842.3" y2="736.5" stroke="#000" stroke-width="3.2" />
<line x1="828.9" y1="794.6" x2="842.3" y2="794.6" stroke="#000" stroke-width="3.2" />
<line x1="867.4" y1="714.2" x2="867.4" y2="820.1" stroke="#000" stroke-width="2.8" />
<line x1="860.7" y1="714.2" x2="874.1" y2="714.2" stroke="#000" stroke-width="3.2" />
<line x1="860.7" y1="820.1" x2="874.1" y2="820.1" stroke="#000" stroke-width="3.2" />
<line x1="899.2" y1="647.8" x2="899.2" y2="718.6" stroke="#000" stroke-width="2.8" />
<line x1="892.5" y1="647.8" x2="905.9" y2="647.8" stroke="#000" stroke-width="3.2" />
<line x1="892.5" y1="718.6" x2="905.9" y2="718.6" stroke="#000" stroke-width="3.2" />
<line x1="931" y1="737.7" x2="931" y2="768.2" stroke="#000" stroke-width="2.8" />
<line x1="924.3" y1="737.7" x2="937.7" y2="737.7" stroke="#000" stroke-width="3.2" />
<line x1="924.3" y1="768.2" x2="937.7" y2="768.2" stroke="#000" stroke-width="3.2" />
<line x1="962.8" y1="808.8" x2="962.8" y2="837.9" stroke="#000" stroke-width="2.8" />
<line x1="956.1" y1="808.8" x2="969.5" y2="808.8" stroke="#000" stroke-width="3.2" />
<line x1="956.1" y1="837.9" x2="969.5" y2="837.9" stroke="#000" stroke-width="3.2" />
<line x1="994.6" y1="677.1" x2="994.6" y2="704" stroke="#000" stroke-width="2.8" />
<line x1="987.9" y1="677.1" x2="1001.3" y2="677.1" stroke="#000" stroke-width="3.2" />
<line x1="987.9" y1="704" x2="1001.3" y2="704" stroke="#000" stroke-width="3.2" />
<line x1="1026.4" y1="730.2" x2="1026.4" y2="759.1" stroke="#000" stroke-width="2.8" />
<line x1="1019.7" y1="730.2" x2="1033.1" y2="730.2" stroke="#000" stroke-width="3.2" />
<line x1="1019.7" y1="759.1" x2="1033.1" y2="759.1" stroke="#000" stroke-width="3.2" />
<polyline points="676.6,793.6 708.4,704.1 740.2,770.3 772,747.9 803.8,796.8 835.6,765.8 867.4,766.6 899.2,684.8 931,751 962.8,820 994.6,692.9 1026.4,740" fill="none" stroke="#000" stroke-width="3.6" stroke-linejoin="miter"/>
<circle cx="676.6" cy="810.5" r="8.4" fill="none" stroke="#858585" stroke-width="1.8"/>
<path d="M670.4 789.4L682.8 801.8M670.4 801.8L682.8 789.4" stroke="#858585" stroke-width="1.8" fill="none"/>
<path d="M667.7 938.7L685.5 938.7M676.6 929.8L676.6 947.6" stroke="#858585" stroke-width="1.8" fill="none"/>
<path d="M676.6 648.5L686.45 666.1L666.75 666.1Z" stroke="#858585" stroke-width="1.8" fill="none" stroke-linejoin="miter"/>
<circle cx="708.4" cy="744.4" r="8.4" fill="none" stroke="#858585" stroke-width="1.8"/>
<path d="M702.2 741.7L714.6 754.1M702.2 754.1L714.6 741.7" stroke="#858585" stroke-width="1.8" fill="none"/>
<path d="M699.5 638.4L717.3 638.4M708.4 629.5L708.4 647.3" stroke="#858585" stroke-width="1.8" fill="none"/>
<path d="M708.4 665.8L718.25 683.4L698.55 683.4Z" stroke="#858585" stroke-width="1.8" fill="none" stroke-linejoin="miter"/>
<circle cx="740.2" cy="857.3" r="8.4" fill="none" stroke="#858585" stroke-width="1.8"/>
<path d="M734 758L746.4 770.4M734 770.4L746.4 758" stroke="#858585" stroke-width="1.8" fill="none"/>
<path d="M731.3 667.9L749.1 667.9M740.2 659L740.2 676.8" stroke="#858585" stroke-width="1.8" fill="none"/>
<path d="M740.2 788.8L750.05 806.4L730.35 806.4Z" stroke="#858585" stroke-width="1.8" fill="none" stroke-linejoin="miter"/>
<circle cx="772" cy="842.4" r="8.4" fill="none" stroke="#858585" stroke-width="1.8"/>
<path d="M765.8 681.7L778.2 694.1M765.8 694.1L778.2 681.7" stroke="#858585" stroke-width="1.8" fill="none"/>
<path d="M763.1 780.4L780.9 780.4M772 771.5L772 789.3" stroke="#858585" stroke-width="1.8" fill="none"/>
<path d="M772 671.3L781.85 688.9L762.15 688.9Z" stroke="#858585" stroke-width="1.8" fill="none" stroke-linejoin="miter"/>
<circle cx="803.8" cy="773.1" r="8.4" fill="none" stroke="#858585" stroke-width="1.8"/>
<path d="M797.6 874.3L810 886.7M797.6 886.7L810 874.3" stroke="#858585" stroke-width="1.8" fill="none"/>
<path d="M794.9 721.3L812.7 721.3M803.8 712.4L803.8 730.2" stroke="#858585" stroke-width="1.8" fill="none"/>
<path d="M803.8 809.2L813.65 826.8L793.95 826.8Z" stroke="#858585" stroke-width="1.8" fill="none" stroke-linejoin="miter"/>
<circle cx="835.6" cy="783.5" r="8.4" fill="none" stroke="#858585" stroke-width="1.8"/>
<path d="M829.4 783.8L841.8 796.2M829.4 796.2L841.8 783.8" stroke="#858585" stroke-width="1.8" fill="none"/>
<path d="M826.7 679.7L844.5 679.7M835.6 670.8L835.6 688.6" stroke="#858585" stroke-width="1.8" fill="none"/>
<path d="M835.6 798.8L845.45 816.4L825.75 816.4Z" stroke="#858585" stroke-width="1.8" fill="none" stroke-linejoin="miter"/>
<circle cx="867.4" cy="671.6" r="8.4" fill="none" stroke="#858585" stroke-width="1.8"/>
<path d="M861.2 681.7L873.6 694.1M861.2 694.1L873.6 681.7" stroke="#858585" stroke-width="1.8" fill="none"/>
<path d="M858.5 892.9L876.3 892.9M867.4 884L867.4 901.8" stroke="#858585" stroke-width="1.8" fill="none"/>
<path d="M867.4 806.4L877.25 824L857.55 824Z" stroke="#858585" stroke-width="1.8" fill="none" stroke-linejoin="miter"/>
<circle cx="899.2" cy="748.4" r="8.4" fill="none" stroke="#858585" stroke-width="1.8"/>
<path d="M893 660.3L905.4 672.7M893 672.7L905.4 660.3" stroke="#858585" stroke-width="1.8" fill="none"/>
<path d="M890.3 591.2L908.1 591.2M899.2 582.3L899.2 600.1" stroke="#858585" stroke-width="1.8" fill="none"/>
<path d="M899.2 718.3L909.05 735.9L889.35 735.9Z" stroke="#858585" stroke-width="1.8" fill="none" stroke-linejoin="miter"/>
<circle cx="931" cy="794.6" r="8.4" fill="none" stroke="#858585" stroke-width="1.8"/>
<path d="M924.8 748.8L937.2 761.2M924.8 761.2L937.2 748.8" stroke="#858585" stroke-width="1.8" fill="none"/>
<path d="M922.1 722.4L939.9 722.4M931 713.5L931 731.3" stroke="#858585" stroke-width="1.8" fill="none"/>
<path d="M931 728.9L940.85 746.5L921.15 746.5Z" stroke="#858585" stroke-width="1.8" fill="none" stroke-linejoin="miter"/>
<circle cx="962.8" cy="786.5" r="8.4" fill="none" stroke="#858585" stroke-width="1.8"/>
<path d="M956.6 819.4L969 831.8M956.6 831.8L969 819.4" stroke="#858585" stroke-width="1.8" fill="none"/>
<path d="M953.9 858.7L971.7 858.7M962.8 849.8L962.8 867.6" stroke="#858585" stroke-width="1.8" fill="none"/>
<path d="M962.8 815.3L972.65 832.9L952.95 832.9Z" stroke="#858585" stroke-width="1.8" fill="none" stroke-linejoin="miter"/>
<circle cx="994.6" cy="651.6" r="8.4" fill="none" stroke="#858585" stroke-width="1.8"/>
<path d="M988.4 682.3L1000.8 694.7M988.4 694.7L1000.8 682.3" stroke="#858585" stroke-width="1.8" fill="none"/>
<path d="M985.7 709.5L1003.5 709.5M994.6 700.6L994.6 718.4" stroke="#858585" stroke-width="1.8" fill="none"/>
<path d="M994.6 701L1004.45 718.6L984.75 718.6Z" stroke="#858585" stroke-width="1.8" fill="none" stroke-linejoin="miter"/>
<circle cx="1026.4" cy="741.8" r="8.4" fill="none" stroke="#858585" stroke-width="1.8"/>
<path d="M1020.2 760.3L1032.6 772.7M1020.2 772.7L1032.6 760.3" stroke="#858585" stroke-width="1.8" fill="none"/>
<path d="M1017.5 766.5L1035.3 766.5M1026.4 757.6L1026.4 775.4" stroke="#858585" stroke-width="1.8" fill="none"/>
<path d="M1026.4 694.2L1036.25 711.8L1016.55 711.8Z" stroke="#858585" stroke-width="1.8" fill="none" stroke-linejoin="miter"/>
<line x1="661" y1="768.5" x2="1043" y2="738.5" stroke="#000" stroke-width="3.2" stroke-dasharray="16.5 12.5"/>
<path d="M661 584.2L661 949.8L1043 949.8" stroke="#000" stroke-width="2.0" fill="none" stroke-linecap="square"/>
<line x1="661" y1="614.3" x2="666" y2="614.3" stroke="#000" stroke-width="2.0" />
<text x="649.1" y="627.7" font-size="31.17" text-anchor="end" font-weight="normal" fill="#000" stroke="#000" stroke-width="0.25" textLength="68.52" lengthAdjust="spacingAndGlyphs" >1000</text>
<line x1="661" y1="721.1" x2="666" y2="721.1" stroke="#000" stroke-width="2.0" />
<text x="649.7" y="734.5" font-size="31.17" text-anchor="end" font-weight="normal" fill="#000" stroke="#000" stroke-width="0.25" textLength="17.13" lengthAdjust="spacingAndGlyphs" >0</text>
<line x1="661" y1="828" x2="666" y2="828" stroke="#000" stroke-width="2.0" />
<text x="649.1" y="841.4" font-size="31.17" text-anchor="end" font-weight="normal" fill="#000" stroke="#000" stroke-width="0.25" textLength="78.78" lengthAdjust="spacingAndGlyphs" >-1000</text>
<line x1="661" y1="934.8" x2="666" y2="934.8" stroke="#000" stroke-width="2.0" />
<text x="649.1" y="948.2" font-size="31.17" text-anchor="end" font-weight="normal" fill="#000" stroke="#000" stroke-width="0.25" textLength="78.78" lengthAdjust="spacingAndGlyphs" >-2000</text>
<line x1="708.4" y1="949.8" x2="708.4" y2="944.8" stroke="#000" stroke-width="2.0" />
<text x="708.1" y="990.7" font-size="31.42" text-anchor="middle" font-weight="normal" fill="#000" stroke="#000" stroke-width="0.25" textLength="17.13" lengthAdjust="spacingAndGlyphs" >2</text>
<line x1="772" y1="949.8" x2="772" y2="944.8" stroke="#000" stroke-width="2.0" />
<text x="771.7" y="990.7" font-size="31.42" text-anchor="middle" font-weight="normal" fill="#000" stroke="#000" stroke-width="0.25" textLength="17.13" lengthAdjust="spacingAndGlyphs" >4</text>
<line x1="835.6" y1="949.8" x2="835.6" y2="944.8" stroke="#000" stroke-width="2.0" />
<text x="835.3" y="990.7" font-size="31.42" text-anchor="middle" font-weight="normal" fill="#000" stroke="#000" stroke-width="0.25" textLength="17.13" lengthAdjust="spacingAndGlyphs" >6</text>
<line x1="899.2" y1="949.8" x2="899.2" y2="944.8" stroke="#000" stroke-width="2.0" />
<text x="898.9" y="990.7" font-size="31.42" text-anchor="middle" font-weight="normal" fill="#000" stroke="#000" stroke-width="0.25" textLength="17.13" lengthAdjust="spacingAndGlyphs" >8</text>
<line x1="962.8" y1="949.8" x2="962.8" y2="944.8" stroke="#000" stroke-width="2.0" />
<text x="962.5" y="990.7" font-size="31.42" text-anchor="middle" font-weight="normal" fill="#000" stroke="#000" stroke-width="0.25" textLength="34.26" lengthAdjust="spacingAndGlyphs" >10</text>
<line x1="1026.4" y1="949.8" x2="1026.4" y2="944.8" stroke="#000" stroke-width="2.0" />
<text x="1026.1" y="990.7" font-size="31.42" text-anchor="middle" font-weight="normal" fill="#000" stroke="#000" stroke-width="0.25" textLength="34.26" lengthAdjust="spacingAndGlyphs" >12</text>
<text x="554.6" y="766.5" font-size="33.83" text-anchor="middle" font-weight="normal" fill="#000" stroke="#000" stroke-width="0.25" textLength="156.22" lengthAdjust="spacingAndGlyphs" transform="rotate(-90 554.6 766.5)">Effect size</text>
<text x="851.5" y="562.8" font-size="30.33" text-anchor="middle" font-weight="normal" fill="#000" stroke="#000" stroke-width="0.25" textLength="369.59" lengthAdjust="spacingAndGlyphs" >GLM2 MFC novel vs familiar</text>
<text x="851.5" y="1032.3" font-size="34.98" text-anchor="middle" font-weight="normal" fill="#000" stroke="#000" stroke-width="0.25" textLength="120.25" lengthAdjust="spacingAndGlyphs" >Session</text>
<line x1="1202" y1="712.8" x2="1583" y2="712.8" stroke="#000" stroke-width="2.1" />
<line x1="1239.9" y1="690.5" x2="1239.9" y2="809.5" stroke="#000" stroke-width="2.5" />
<line x1="1233.3" y1="690.5" x2="1246.5" y2="690.5" stroke="#000" stroke-width="3.1" />
<line x1="1233.3" y1="809.5" x2="1246.5" y2="809.5" stroke="#000" stroke-width="3.1" />
<line x1="1316.02" y1="625.2" x2="1316.02" y2="721.4" stroke="#000" stroke-width="2.5" />
<line x1="1309.42" y1="625.2" x2="1322.62" y2="625.2" stroke="#000" stroke-width="3.1" />
<line x1="1309.42" y1="721.4" x2="1322.62" y2="721.4" stroke="#000" stroke-width="3.1" />
<line x1="1392.14" y1="740.6" x2="1392.14" y2="848.2" stroke="#000" stroke-width="2.5" />
<line x1="1385.54" y1="740.6" x2="1398.74" y2="740.6" stroke="#000" stroke-width="3.1" />
<line x1="1385.54" y1="848.2" x2="1398.74" y2="848.2" stroke="#000" stroke-width="3.1" />
<line x1="1468.26" y1="749.5" x2="1468.26" y2="804.9" stroke="#000" stroke-width="2.5" />
<line x1="1461.66" y1="749.5" x2="1474.86" y2="749.5" stroke="#000" stroke-width="3.1" />
<line x1="1461.66" y1="804.9" x2="1474.86" y2="804.9" stroke="#000" stroke-width="3.1" />
<line x1="1544.38" y1="732.2" x2="1544.38" y2="803.5" stroke="#000" stroke-width="2.5" />
<line x1="1537.78" y1="732.2" x2="1550.98" y2="732.2" stroke="#000" stroke-width="3.1" />
<line x1="1537.78" y1="803.5" x2="1550.98" y2="803.5" stroke="#000" stroke-width="3.1" />
<polyline points="1239.9,748.9 1316.02,674 1392.14,794 1468.26,777 1544.38,767.9" fill="none" stroke="#000" stroke-width="3.2" stroke-linejoin="miter"/>
<circle cx="1239.9" cy="590.6" r="8.4" fill="none" stroke="#858585" stroke-width="1.8"/>
<path d="M1233.7 865.3L1246.1 877.7M1233.7 877.7L1246.1 865.3" stroke="#858585" stroke-width="1.8" fill="none"/>
<path d="M1231 738.3L1248.8 738.3M1239.9 729.4L1239.9 747.2" stroke="#858585" stroke-width="1.8" fill="none"/>
<path d="M1239.9 788.8L1249.75 806.4L1230.05 806.4Z" stroke="#858585" stroke-width="1.8" fill="none" stroke-linejoin="miter"/>
<circle cx="1316.02" cy="813.5" r="8.4" fill="none" stroke="#858585" stroke-width="1.8"/>
<path d="M1309.82 644L1322.22 656.4M1309.82 656.4L1322.22 644" stroke="#858585" stroke-width="1.8" fill="none"/>
<path d="M1307.12 591.8L1324.92 591.8M1316.02 582.9L1316.02 600.7" stroke="#858585" stroke-width="1.8" fill="none"/>
<path d="M1316.02 628.8L1325.87 646.4L1306.17 646.4Z" stroke="#858585" stroke-width="1.8" fill="none" stroke-linejoin="miter"/>
<circle cx="1392.14" cy="687.5" r="8.4" fill="none" stroke="#858585" stroke-width="1.8"/>
<path d="M1385.94 799.5L1398.34 811.9M1385.94 811.9L1398.34 799.5" stroke="#858585" stroke-width="1.8" fill="none"/>
<path d="M1383.24 938.7L1401.04 938.7M1392.14 929.8L1392.14 947.6" stroke="#858585" stroke-width="1.8" fill="none"/>
<path d="M1392.14 736.6L1401.99 754.2L1382.29 754.2Z" stroke="#858585" stroke-width="1.8" fill="none" stroke-linejoin="miter"/>
<circle cx="1468.26" cy="777.6" r="8.4" fill="none" stroke="#858585" stroke-width="1.8"/>
<path d="M1462.06 820.7L1474.46 833.1M1462.06 833.1L1474.46 820.7" stroke="#858585" stroke-width="1.8" fill="none"/>
<path d="M1459.36 802.5L1477.16 802.5M1468.26 793.6L1468.26 811.4" stroke="#858585" stroke-width="1.8" fill="none"/>
<path d="M1468.26 689.5L1478.11 707.1L1458.41 707.1Z" stroke="#858585" stroke-width="1.8" fill="none" stroke-linejoin="miter"/>
<circle cx="1544.38" cy="712.5" r="8.4" fill="none" stroke="#858585" stroke-width="1.8"/>
<path d="M1538.18 863.4L1550.58 875.8M1538.18 875.8L1550.58 863.4" stroke="#858585" stroke-width="1.8" fill="none"/>
<path d="M1535.48 736.3L1553.28 736.3M1544.38 727.4L1544.38 745.2" stroke="#858585" stroke-width="1.8" fill="none"/>
<path d="M1544.38 740.7L1554.23 758.3L1534.53 758.3Z" stroke="#858585" stroke-width="1.8" fill="none" stroke-linejoin="miter"/>
<path d="M1202 584.2L1202 949.8L1583 949.8" stroke="#000" stroke-width="2.0" fill="none" stroke-linecap="square"/>
<line x1="1202" y1="609.5" x2="1207" y2="609.5" stroke="#000" stroke-width="2.0" />
<text x="1190.1" y="622.9" font-size="31.17" text-anchor="end" font-weight="normal" fill="#000" stroke="#000" stroke-width="0.25" textLength="51.39" lengthAdjust="spacingAndGlyphs" >400</text>
<line x1="1202" y1="661.15" x2="1207" y2="661.15" stroke="#000" stroke-width="2.0" />
<text x="1190.1" y="674.55" font-size="31.17" text-anchor="end" font-weight="normal" fill="#000" stroke="#000" stroke-width="0.25" textLength="51.39" lengthAdjust="spacingAndGlyphs" >200</text>
<line x1="1202" y1="712.8" x2="1207" y2="712.8" stroke="#000" stroke-width="2.0" />
<text x="1190.7" y="726.2" font-size="31.17" text-anchor="end" font-weight="normal" fill="#000" stroke="#000" stroke-width="0.25" textLength="17.13" lengthAdjust="spacingAndGlyphs" >0</text>
<line x1="1202" y1="764.45" x2="1207" y2="764.45" stroke="#000" stroke-width="2.0" />
<text x="1190.1" y="777.85" font-size="31.17" text-anchor="end" font-weight="normal" fill="#000" stroke="#000" stroke-width="0.25" textLength="61.65" lengthAdjust="spacingAndGlyphs" >-200</text>
<line x1="1202" y1="816.1" x2="1207" y2="816.1" stroke="#000" stroke-width="2.0" />
<text x="1190.1" y="829.5" font-size="31.17" text-anchor="end" font-weight="normal" fill="#000" stroke="#000" stroke-width="0.25" textLength="61.65" lengthAdjust="spacingAndGlyphs" >-400</text>
<line x1="1202" y1="867.75" x2="1207" y2="867.75" stroke="#000" stroke-width="2.0" />
<text x="1190.1" y="881.15" font-size="31.17" text-anchor="end" font-weight="normal" fill="#000" stroke="#000" stroke-width="0.25" textLength="61.65" lengthAdjust="spacingAndGlyphs" >-600</text>
<line x1="1202" y1="919.4" x2="1207" y2="919.4" stroke="#000" stroke-width="2.0" />
<text x="1190.1" y="932.8" font-size="31.17" text-anchor="end" font-weight="normal" fill="#000" stroke="#000" stroke-width="0.25" textLength="61.65" lengthAdjust="spacingAndGlyphs" >-800</text>
<line x1="1239.9" y1="949.8" x2="1239.9" y2="944.8" stroke="#000" stroke-width="2.0" />
<text x="1239.6" y="990.7" font-size="31.42" text-anchor="middle" font-weight="normal" fill="#000" stroke="#000" stroke-width="0.25" textLength="17.13" lengthAdjust="spacingAndGlyphs" >1</text>
<line x1="1316.02" y1="949.8" x2="1316.02" y2="944.8" stroke="#000" stroke-width="2.0" />
<text x="1315.72" y="990.7" font-size="31.42" text-anchor="middle" font-weight="normal" fill="#000" stroke="#000" stroke-width="0.25" textLength="17.13" lengthAdjust="spacingAndGlyphs" >2</text>
<line x1="1392.14" y1="949.8" x2="1392.14" y2="944.8" stroke="#000" stroke-width="2.0" />
<text x="1391.84" y="990.7" font-size="31.42" text-anchor="middle" font-weight="normal" fill="#000" stroke="#000" stroke-width="0.25" textLength="17.13" lengthAdjust="spacingAndGlyphs" >3</text>
<line x1="1468.26" y1="949.8" x2="1468.26" y2="944.8" stroke="#000" stroke-width="2.0" />
<text x="1467.96" y="990.7" font-size="31.42" text-anchor="middle" font-weight="normal" fill="#000" stroke="#000" stroke-width="0.25" textLength="17.13" lengthAdjust="spacingAndGlyphs" >4</text>
<line x1="1544.38" y1="949.8" x2="1544.38" y2="944.8" stroke="#000" stroke-width="2.0" />
<text x="1544.08" y="990.7" font-size="31.42" text-anchor="middle" font-weight="normal" fill="#000" stroke="#000" stroke-width="0.25" textLength="17.13" lengthAdjust="spacingAndGlyphs" >5</text>
<text x="1109.3" y="766.5" font-size="33.83" text-anchor="middle" font-weight="normal" fill="#000" stroke="#000" stroke-width="0.25" textLength="156.22" lengthAdjust="spacingAndGlyphs" transform="rotate(-90 1109.3 766.5)">Effect size</text>
<text x="1392" y="562.8" font-size="30.33" text-anchor="middle" font-weight="normal" fill="#000" stroke="#000" stroke-width="0.25" textLength="267.05" lengthAdjust="spacingAndGlyphs" >GLM3 aOFC identity</text>
<text x="1392" y="1032.3" font-size="34.98" text-anchor="middle" font-weight="normal" fill="#000" stroke="#000" stroke-width="0.25" textLength="120.25" lengthAdjust="spacingAndGlyphs" >Session</text>
<line x1="1743" y1="888.9" x2="2124.5" y2="888.9" stroke="#000" stroke-width="2.1" />
<line x1="1781.2" y1="830" x2="1781.2" y2="883.9" stroke="#000" stroke-width="2.5" />
<line x1="1774.6" y1="830" x2="1787.8" y2="830" stroke="#000" stroke-width="3.1" />
<line x1="1774.6" y1="883.9" x2="1787.8" y2="883.9" stroke="#000" stroke-width="3.1" />
<line x1="1857.3" y1="855.6" x2="1857.3" y2="889.3" stroke="#000" stroke-width="2.5" />
<line x1="1850.7" y1="855.6" x2="1863.9" y2="855.6" stroke="#000" stroke-width="3.1" />
<line x1="1850.7" y1="889.3" x2="1863.9" y2="889.3" stroke="#000" stroke-width="3.1" />
<line x1="1933.4" y1="751.8" x2="1933.4" y2="895.9" stroke="#000" stroke-width="2.5" />
<line x1="1926.8" y1="751.8" x2="1940" y2="751.8" stroke="#000" stroke-width="3.1" />
<line x1="1926.8" y1="895.9" x2="1940" y2="895.9" stroke="#000" stroke-width="3.1" />
<line x1="2009.5" y1="785.4" x2="2009.5" y2="861.3" stroke="#000" stroke-width="2.5" />
<line x1="2002.9" y1="785.4" x2="2016.1" y2="785.4" stroke="#000" stroke-width="3.1" />
<line x1="2002.9" y1="861.3" x2="2016.1" y2="861.3" stroke="#000" stroke-width="3.1" />
<line x1="2085.6" y1="809.2" x2="2085.6" y2="859.7" stroke="#000" stroke-width="2.5" />
<line x1="2079" y1="809.2" x2="2092.2" y2="809.2" stroke="#000" stroke-width="3.1" />
<line x1="2079" y1="859.7" x2="2092.2" y2="859.7" stroke="#000" stroke-width="3.1" />
<polyline points="1781.2,856.8 1857.3,875.8 1933.4,824.1 2009.5,824.1 2085.6,834.9" fill="none" stroke="#000" stroke-width="3.2" stroke-linejoin="miter"/>
<circle cx="1781.2" cy="903.1" r="8.4" fill="none" stroke="#858585" stroke-width="1.8"/>
<path d="M1775 826.5L1787.4 838.9M1775 838.9L1787.4 826.5" stroke="#858585" stroke-width="1.8" fill="none"/>
<path d="M1772.3 792.9L1790.1 792.9M1781.2 784L1781.2 801.8" stroke="#858585" stroke-width="1.8" fill="none"/>
<path d="M1781.2 893.2L1791.05 910.8L1771.35 910.8Z" stroke="#858585" stroke-width="1.8" fill="none" stroke-linejoin="miter"/>
<circle cx="1857.3" cy="888.2" r="8.4" fill="none" stroke="#858585" stroke-width="1.8"/>
<path d="M1851.1 810.1L1863.5 822.5M1851.1 822.5L1863.5 810.1" stroke="#858585" stroke-width="1.8" fill="none"/>
<path d="M1848.4 906.3L1866.2 906.3M1857.3 897.4L1857.3 915.2" stroke="#858585" stroke-width="1.8" fill="none"/>
<path d="M1857.3 883.7L1867.15 901.3L1847.45 901.3Z" stroke="#858585" stroke-width="1.8" fill="none" stroke-linejoin="miter"/>
<circle cx="1933.4" cy="899.4" r="8.4" fill="none" stroke="#858585" stroke-width="1.8"/>
<path d="M1927.2 868.4L1939.6 880.8M1927.2 880.8L1939.6 868.4" stroke="#858585" stroke-width="1.8" fill="none"/>
<path d="M1924.5 608.5L1942.3 608.5M1933.4 599.6L1933.4 617.4" stroke="#858585" stroke-width="1.8" fill="none"/>
<path d="M1933.4 903.1L1943.25 920.7L1923.55 920.7Z" stroke="#858585" stroke-width="1.8" fill="none" stroke-linejoin="miter"/>
<circle cx="2009.5" cy="795" r="8.4" fill="none" stroke="#858585" stroke-width="1.8"/>
<path d="M2003.3 910.5L2015.7 922.9M2003.3 922.9L2015.7 910.5" stroke="#858585" stroke-width="1.8" fill="none"/>
<path d="M2000.6 736.3L2018.4 736.3M2009.5 727.4L2009.5 745.2" stroke="#858585" stroke-width="1.8" fill="none"/>
<path d="M2009.5 836.7L2019.35 854.3L1999.65 854.3Z" stroke="#858585" stroke-width="1.8" fill="none" stroke-linejoin="miter"/>
<circle cx="2085.6" cy="806.4" r="8.4" fill="none" stroke="#858585" stroke-width="1.8"/>
<path d="M2079.4 890.1L2091.8 902.5M2079.4 902.5L2091.8 890.1" stroke="#858585" stroke-width="1.8" fill="none"/>
<path d="M2076.7 853.2L2094.5 853.2M2085.6 844.3L2085.6 862.1" stroke="#858585" stroke-width="1.8" fill="none"/>
<path d="M2085.6 771.6L2095.45 789.2L2075.75 789.2Z" stroke="#858585" stroke-width="1.8" fill="none" stroke-linejoin="miter"/>
<line x1="1743" y1="867.2" x2="2124.5" y2="818.8" stroke="#000" stroke-width="3.2" stroke-dasharray="16.5 12.5"/>
<path d="M1743 584.2L1743 949.8L2124.5 949.8" stroke="#000" stroke-width="2.0" fill="none" stroke-linecap="square"/>
<line x1="1743" y1="949.7" x2="1748" y2="949.7" stroke="#000" stroke-width="2.0" />
<text x="1731.7" y="963.1" font-size="31.17" text-anchor="end" font-weight="normal" fill="#000" stroke="#000" stroke-width="0.25" textLength="17.13" lengthAdjust="spacingAndGlyphs" >0</text>
<line x1="1743" y1="828.06" x2="1748" y2="828.06" stroke="#000" stroke-width="2.0" />
<text x="1731.1" y="841.46" font-size="31.17" text-anchor="end" font-weight="normal" fill="#000" stroke="#000" stroke-width="0.25" textLength="17.13" lengthAdjust="spacingAndGlyphs" >2</text>
<line x1="1743" y1="706.42" x2="1748" y2="706.42" stroke="#000" stroke-width="2.0" />
<text x="1731.1" y="719.82" font-size="31.17" text-anchor="end" font-weight="normal" fill="#000" stroke="#000" stroke-width="0.25" textLength="17.13" lengthAdjust="spacingAndGlyphs" >4</text>
<line x1="1746" y1="584.78" x2="1751.5" y2="584.78" stroke="#000" stroke-width="2.0" />
<text x="1731.1" y="598.18" font-size="31.17" text-anchor="end" font-weight="normal" fill="#000" stroke="#000" stroke-width="0.25" textLength="17.13" lengthAdjust="spacingAndGlyphs" >6</text>
<line x1="1781.2" y1="949.8" x2="1781.2" y2="944.8" stroke="#000" stroke-width="2.0" />
<text x="1780.9" y="990.7" font-size="31.42" text-anchor="middle" font-weight="normal" fill="#000" stroke="#000" stroke-width="0.25" textLength="17.13" lengthAdjust="spacingAndGlyphs" >1</text>
<line x1="1857.3" y1="949.8" x2="1857.3" y2="944.8" stroke="#000" stroke-width="2.0" />
<text x="1857" y="990.7" font-size="31.42" text-anchor="middle" font-weight="normal" fill="#000" stroke="#000" stroke-width="0.25" textLength="17.13" lengthAdjust="spacingAndGlyphs" >2</text>
<line x1="1933.4" y1="949.8" x2="1933.4" y2="944.8" stroke="#000" stroke-width="2.0" />
<text x="1933.1" y="990.7" font-size="31.42" text-anchor="middle" font-weight="normal" fill="#000" stroke="#000" stroke-width="0.25" textLength="17.13" lengthAdjust="spacingAndGlyphs" >3</text>
<line x1="2009.5" y1="949.8" x2="2009.5" y2="944.8" stroke="#000" stroke-width="2.0" />
<text x="2009.2" y="990.7" font-size="31.42" text-anchor="middle" font-weight="normal" fill="#000" stroke="#000" stroke-width="0.25" textLength="17.13" lengthAdjust="spacingAndGlyphs" >4</text>
<line x1="2085.6" y1="949.8" x2="2085.6" y2="944.8" stroke="#000" stroke-width="2.0" />
<text x="2085.3" y="990.7" font-size="31.42" text-anchor="middle" font-weight="normal" fill="#000" stroke="#000" stroke-width="0.25" textLength="17.13" lengthAdjust="spacingAndGlyphs" >5</text>
<text x="1696.6" y="766.5" font-size="33.83" text-anchor="middle" font-weight="normal" fill="#000" stroke="#000" stroke-width="0.25" textLength="156.22" lengthAdjust="spacingAndGlyphs" transform="rotate(-90 1696.6 766.5)">Effect size</text>
<text x="1933.25" y="562.8" font-size="30.33" text-anchor="middle" font-weight="normal" fill="#000" stroke="#000" stroke-width="0.25" textLength="280.07" lengthAdjust="spacingAndGlyphs" >GLM4 MFC grid code</text>
<text x="1933.25" y="1032.3" font-size="34.98" text-anchor="middle" font-weight="normal" fill="#000" stroke="#000" stroke-width="0.25" textLength="120.25" lengthAdjust="spacingAndGlyphs" >Session</text>
<rect x="1755.4" y="592.4" width="158.4" height="122.5" fill="#fff" stroke="#0a1420" stroke-width="2"/>
<g transform="translate(1773.1 609.3) scale(0.87)">
<circle cx="0" cy="0" r="8.4" fill="none" stroke="#858585" stroke-width="1.8"/>
</g>
<text x="1787.7" y="616.8" font-size="26.08" text-anchor="start" font-weight="normal" fill="#000" stroke="#000" stroke-width="0.25" textLength="110.66" lengthAdjust="spacingAndGlyphs" >Monkey A</text>
<g transform="translate(1773.1 639.6) scale(0.87)">
<path d="M-6.2 -6.2L6.2 6.2M-6.2 6.2L6.2 -6.2" stroke="#858585" stroke-width="1.8" fill="none"/>
</g>
<text x="1787.7" y="646.8" font-size="26.08" text-anchor="start" font-weight="normal" fill="#000" stroke="#000" stroke-width="0.25" textLength="112.05" lengthAdjust="spacingAndGlyphs" >Monkey B</text>
<g transform="translate(1773.1 669.9) scale(0.87)">
<path d="M-8.9 0L8.9 0M0 -8.9L0 8.9" stroke="#858585" stroke-width="1.8" fill="none"/>
</g>
<text x="1787.7" y="676.8" font-size="26.08" text-anchor="start" font-weight="normal" fill="#000" stroke="#000" stroke-width="0.25" textLength="113.44" lengthAdjust="spacingAndGlyphs" >Monkey C</text>
<g transform="translate(1773.1 700.2) scale(0.87)">
<path d="M0 -8.8L9.85 8.8L-9.85 8.8Z" stroke="#858585" stroke-width="1.8" fill="none" stroke-linejoin="miter"/>
</g>
<text x="1787.7" y="706.8" font-size="26.08" text-anchor="start" font-weight="normal" fill="#000" stroke="#000" stroke-width="0.25" textLength="113.44" lengthAdjust="spacingAndGlyphs" >Monkey D</text>
</svg>
</body></html>
